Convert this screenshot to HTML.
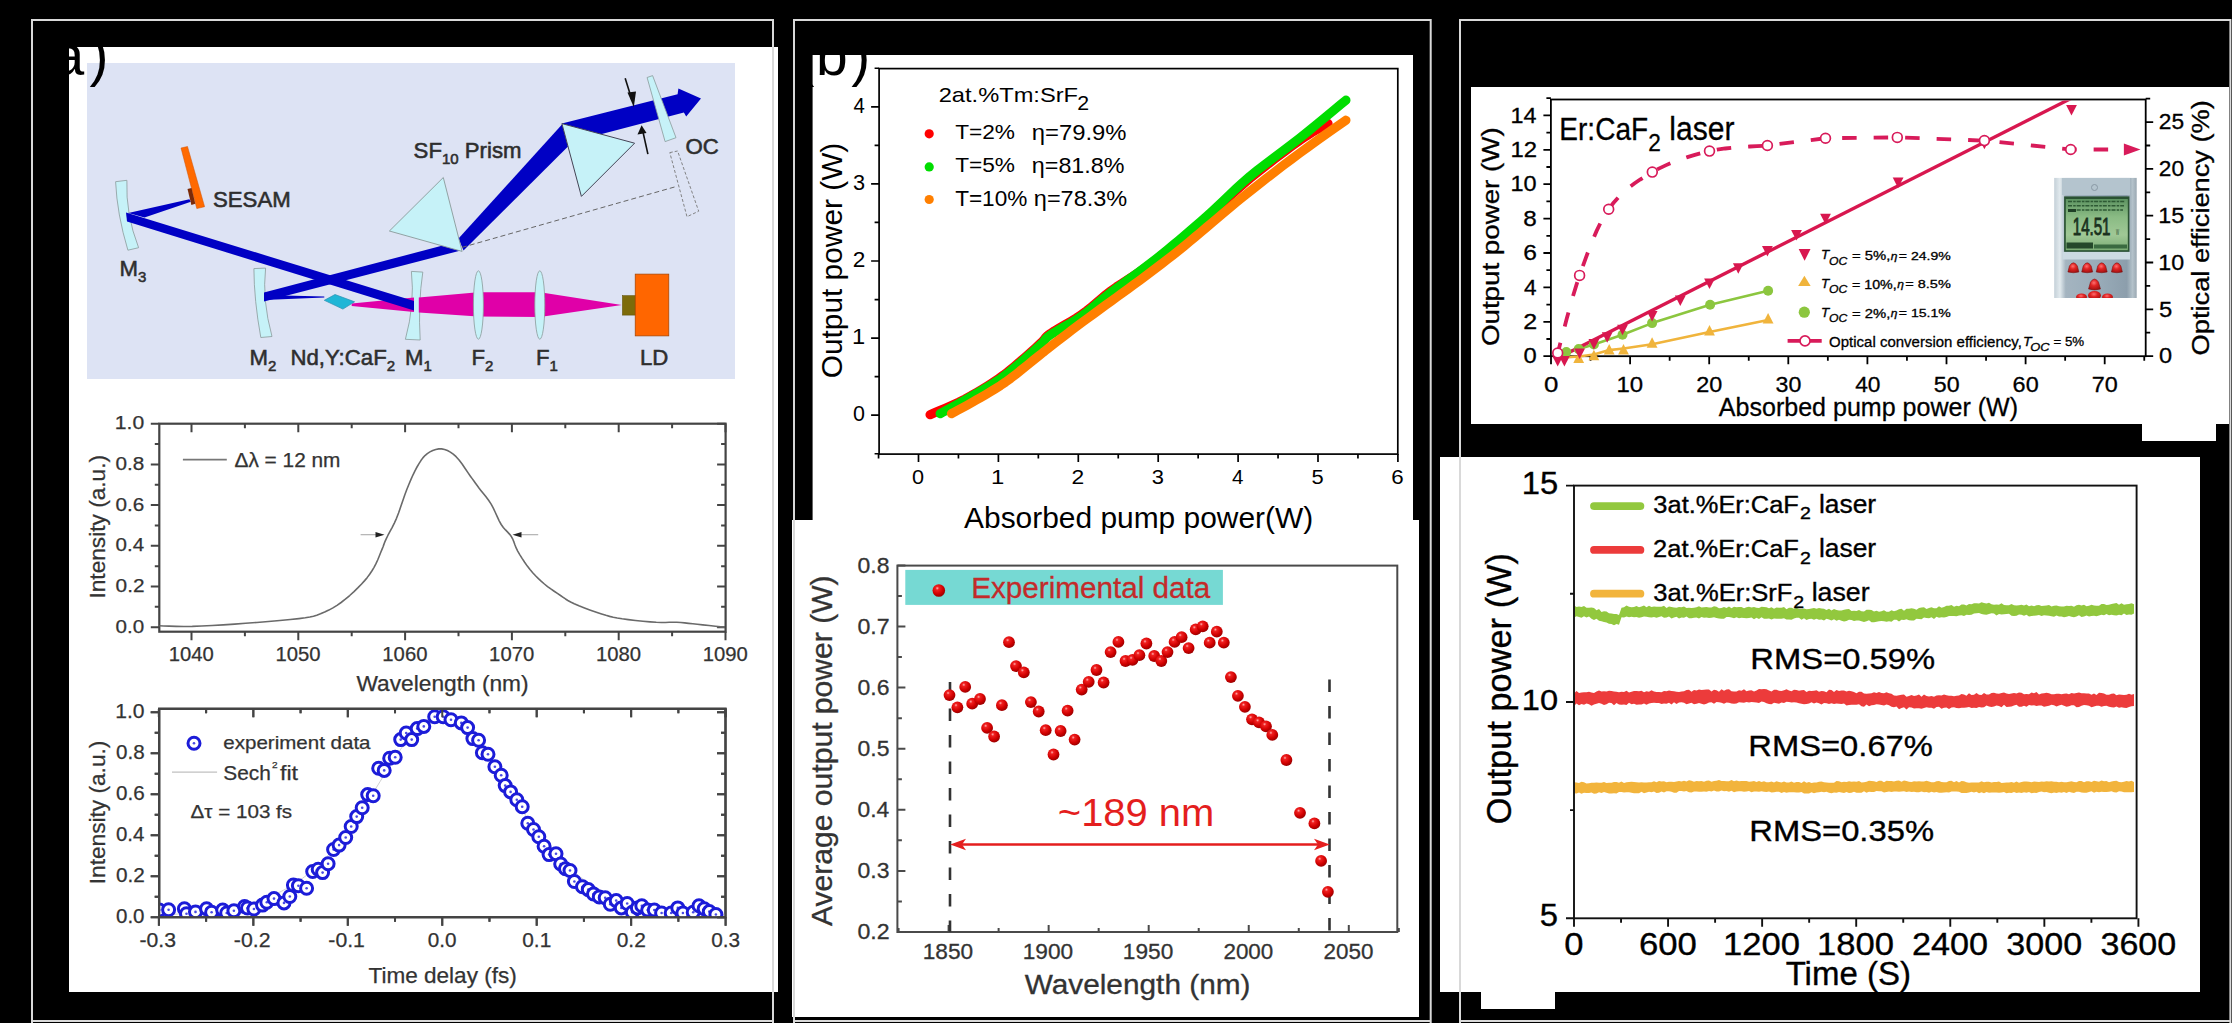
<!DOCTYPE html>
<html><head><meta charset="utf-8"><style>
html,body{margin:0;padding:0;background:#000;width:2232px;height:1023px;overflow:hidden}
svg{display:block;font-family:"Liberation Sans", sans-serif}
</style></head><body>
<svg width="2232" height="1023" viewBox="0 0 2232 1023">
<rect x="69" y="47" width="709" height="945" fill="#fff" />
<rect x="812.6" y="55" width="600.4" height="465" fill="#fff" />
<rect x="792" y="520" width="627" height="497" fill="#fff" />
<rect x="1471" y="87" width="758" height="337" fill="#fff" />
<rect x="2142" y="424" width="74" height="17" fill="#fff" />
<rect x="1440" y="457" width="760" height="535" fill="#fff" />
<rect x="1481" y="992" width="74" height="17" fill="#fff" />
<rect x="87" y="63" width="648" height="316" fill="#dde3f4" />
<path d="M115.6,181.7 L126.9,180.3 Q125.5,214 138.6,247.7 L127.9,250.2 Q117,214 115.6,181.7 Z" fill="#c6f2f8" stroke="#8a9a9a" stroke-width="0.8"/>
<path d="M253.9,268.6 L265.6,268.1 Q262,300 272,336.5 L260.8,337.5 Q254,300 253.9,268.6 Z" fill="#c6f2f8" stroke="#8a9a9a" stroke-width="0.8"/>
<path d="M411.4,271.4 L422.8,272.1 Q418,304 420.2,340 L405.4,339.3 Q415,304 411.4,271.4 Z" fill="#c6f2f8" stroke="#8a9a9a" stroke-width="0.8"/>
<polygon points="351.7,303.5 414,297.5 414,312 351.7,306" fill="#e000a8" />
<polygon points="418.8,297.6 478,292.3 540,292.3 621.8,305 540,317 478,316.5 418.8,312.4" fill="#e000a8" />
<ellipse cx="478.4" cy="305" rx="5" ry="34.2" fill="#c6f2f8" stroke="#8a9a9a" stroke-width="0.8"/>
<ellipse cx="539.8" cy="305" rx="5" ry="34.2" fill="#c6f2f8" stroke="#8a9a9a" stroke-width="0.8"/>
<polygon points="128.3,213 189.4,199.3 190.9,201.8 144.5,217.5" fill="#0000c4" />
<polygon points="126,212.5 414,301 414,310.5 127,221.5" fill="#0000c4" />
<polygon points="264,292.5 455,242.3 461.8,250.2 264,301.5" fill="#0000c4" />
<polygon points="264,295 324.3,296.4 324.3,297.6 264,300" fill="#0000c4" />
<polygon points="458.5,238.5 562.2,124.2 568,146.6 463.5,250.5" fill="#0000c4" />
<polygon points="561.9,123.6 677.6,94.2 678.4,88.5 701,98.6 686.2,116.6 683.9,112.5 575,141" fill="#0000c4" />
<polygon points="324.3,300.3 335,294.5 354.6,301.8 342.9,309.1" fill="#1fb6d6" stroke="#2a8fb0" stroke-width="0.7"/>
<polygon points="389.4,231 443.3,177.5 462.1,251.4" fill="#c6f2f8" stroke="#8a9a9a" stroke-width="0.9"/>
<polygon points="561.9,123.6 634.6,143.2 581.4,196.4" fill="#c6f2f8" stroke="#445" stroke-width="1"/>
<polygon points="647.1,77.5 652.6,75.6 676,137.7 665.1,141.6" fill="#c6f2f8" stroke="#8a9a9a" stroke-width="0.8"/>
<polygon points="669.8,152.6 677.6,151 698.7,211.2 687,216.7" fill="none" stroke="#777" stroke-width="0.9" stroke-dasharray="3,2"/>
<line x1="462" y1="247.4" x2="674.5" y2="187" stroke="#666" stroke-width="1" stroke-dasharray="5,3"/>
<line x1="625.2" y1="78.3" x2="632" y2="100" stroke="#111" stroke-width="1.6"/>
<polygon points="627.5,92.5 636,91.5 633.8,107.2" fill="#111" />
<line x1="647.9" y1="154.1" x2="643" y2="132" stroke="#111" stroke-width="1.6"/>
<polygon points="637.5,134.5 646.5,133 641.6,125.2" fill="#111" />
<polygon points="181,148 187.5,146.5 204.6,206.7 196.8,208.6" fill="#ff6a00" stroke="#d05000" stroke-width="0.5"/>
<polygon points="187.5,189 191.5,188 195.3,203.7 191.4,204.9" fill="#7a2a08" />
<rect x="622.4" y="295.6" width="13.5" height="19.5" fill="#7d6b0a" stroke="#5a4a00" stroke-width="0.5"/>
<rect x="635.2" y="274.1" width="33.6" height="61.8" fill="#ff6600" stroke="#a04000" stroke-width="0.7"/>
<text x="413.6" y="157.5" font-size="22.2" fill="#2e2e2e" stroke="#2e2e2e" stroke-width="0.55">SF<tspan font-size="15" dy="6">10</tspan><tspan dy="-6"> Prism</tspan></text>
<text x="685.5" y="154" font-size="22.2" fill="#2e2e2e" stroke="#2e2e2e" stroke-width="0.55">OC</text>
<text x="213" y="206.5" font-size="22.2" fill="#2e2e2e" stroke="#2e2e2e" stroke-width="0.55">SESAM</text>
<text x="119.5" y="275.5" font-size="22.2" fill="#2e2e2e" stroke="#2e2e2e" stroke-width="0.55">M<tspan font-size="15" dy="6">3</tspan></text>
<text x="249.5" y="365" font-size="22.2" fill="#2e2e2e" stroke="#2e2e2e" stroke-width="0.55">M<tspan font-size="15" dy="6">2</tspan></text>
<text x="290.5" y="365" font-size="22.2" fill="#2e2e2e" stroke="#2e2e2e" stroke-width="0.55">Nd,Y:CaF<tspan font-size="15" dy="6">2</tspan></text>
<text x="405" y="365" font-size="22.2" fill="#2e2e2e" stroke="#2e2e2e" stroke-width="0.55">M<tspan font-size="15" dy="6">1</tspan></text>
<text x="471.5" y="365" font-size="22.2" fill="#2e2e2e" stroke="#2e2e2e" stroke-width="0.55">F<tspan font-size="15" dy="6">2</tspan></text>
<text x="536" y="365" font-size="22.2" fill="#2e2e2e" stroke="#2e2e2e" stroke-width="0.55">F<tspan font-size="15" dy="6">1</tspan></text>
<text x="640" y="365" font-size="22.2" fill="#2e2e2e" stroke="#2e2e2e" stroke-width="0.55">LD</text>
<text x="52.4" y="75" font-size="57" fill="#000">a</text><text x="89.5" y="75" font-size="57" fill="#000">)</text>
<rect x="159.3" y="423.7" width="566.3" height="208" fill="none" stroke="#444" stroke-width="2.2"/>
<path d="M191.5,631.7v8.5M191.5,423.7v8.5M298.3,631.7v8.5M298.3,423.7v8.5M405.1,631.7v8.5M405.1,423.7v8.5M511.9,631.7v8.5M511.9,423.7v8.5M618.7,631.7v8.5M618.7,423.7v8.5M725.5,631.7v8.5M725.5,423.7v8.5M244.9,631.7v4.5M244.9,423.7v4.5M351.7,631.7v4.5M351.7,423.7v4.5M458.5,631.7v4.5M458.5,423.7v4.5M565.3,631.7v4.5M565.3,423.7v4.5M672.1,631.7v4.5M672.1,423.7v4.5M159.3,627.2h-8.5M725.6,627.2h-8.5M159.3,586.5h-8.5M725.6,586.5h-8.5M159.3,545.8h-8.5M725.6,545.8h-8.5M159.3,505.1h-8.5M725.6,505.1h-8.5M159.3,464.4h-8.5M725.6,464.4h-8.5M159.3,423.7h-8.5M725.6,423.7h-8.5M159.3,606.85h-4.5M725.6,606.85h-4.5M159.3,566.15h-4.5M725.6,566.15h-4.5M159.3,525.45h-4.5M725.6,525.45h-4.5M159.3,484.75h-4.5M725.6,484.75h-4.5M159.3,444.05h-4.5M725.6,444.05h-4.5" stroke="#444" stroke-width="2" fill="none"/>
<text x="115.58" y="632.87" font-size="18.45" fill="#333" textLength="28.65" lengthAdjust="spacingAndGlyphs" stroke="#333" stroke-width="0.25">0.0</text>
<text x="115.57" y="592.17" font-size="18.45" fill="#333" textLength="28.98" lengthAdjust="spacingAndGlyphs" stroke="#333" stroke-width="0.25">0.2</text>
<text x="115.58" y="551.47" font-size="18.45" fill="#333" textLength="28.54" lengthAdjust="spacingAndGlyphs" stroke="#333" stroke-width="0.25">0.4</text>
<text x="115.57" y="510.77" font-size="18.45" fill="#333" textLength="28.76" lengthAdjust="spacingAndGlyphs" stroke="#333" stroke-width="0.25">0.6</text>
<text x="115.57" y="470.07" font-size="18.45" fill="#333" textLength="28.76" lengthAdjust="spacingAndGlyphs" stroke="#333" stroke-width="0.25">0.8</text>
<text x="114.81" y="429.37" font-size="18.45" fill="#333" textLength="29.43" lengthAdjust="spacingAndGlyphs" stroke="#333" stroke-width="0.25">1.0</text>
<text x="168.73" y="661.41" font-size="19.44" fill="#333" textLength="45.12" lengthAdjust="spacingAndGlyphs" stroke="#333" stroke-width="0.25">1040</text>
<text x="275.53" y="661.41" font-size="19.44" fill="#333" textLength="45.12" lengthAdjust="spacingAndGlyphs" stroke="#333" stroke-width="0.25">1050</text>
<text x="382.33" y="661.41" font-size="19.44" fill="#333" textLength="45.12" lengthAdjust="spacingAndGlyphs" stroke="#333" stroke-width="0.25">1060</text>
<text x="489.13" y="661.41" font-size="19.44" fill="#333" textLength="45.12" lengthAdjust="spacingAndGlyphs" stroke="#333" stroke-width="0.25">1070</text>
<text x="595.93" y="661.41" font-size="19.44" fill="#333" textLength="45.12" lengthAdjust="spacingAndGlyphs" stroke="#333" stroke-width="0.25">1080</text>
<text x="702.73" y="661.41" font-size="19.44" fill="#333" textLength="45.12" lengthAdjust="spacingAndGlyphs" stroke="#333" stroke-width="0.25">1090</text>
<text x="356.49" y="691.05" font-size="21.18" fill="#333" textLength="172.12" lengthAdjust="spacingAndGlyphs" stroke="#333" stroke-width="0.25">Wavelength (nm)</text>
<text x="104.95" y="598.54" font-size="21.18" fill="#333" textLength="143.62" lengthAdjust="spacingAndGlyphs" transform="rotate(-90 104.95 598.54)" stroke="#333" stroke-width="0.25">Intensity (a.u.)</text>
<polyline points="159.4,625.8 163.55,625.94 169.21,626.17 176.09,626.4 183.89,626.51 192.3,626.4 201.65,626.04 212.15,625.5 223.3,624.83 234.61,624.08 245.6,623.3 256.77,622.46 268.44,621.54 279.86,620.56 290.27,619.57 298.9,618.6 305.26,617.75 309.87,617 313.45,616.19 316.75,615.18 320.5,613.8 324.69,612.07 328.82,610.09 332.92,607.85 337,605.32 341.1,602.5 345.34,599.23 349.7,595.52 354,591.59 358.03,587.68 361.6,584 364.65,580.62 367.31,577.39 369.67,574.21 371.83,570.98 373.9,567.6 375.87,563.9 377.67,559.96 379.31,556.01 380.79,552.31 382.1,549.1 383.08,546.68 383.74,544.88 384.31,543.26 385.05,541.38 386.2,538.8 387.86,535.49 389.87,531.73 392.08,527.59 394.34,523.09 396.5,518.3 398.56,512.97 400.62,507.08 402.69,500.96 404.75,494.99 406.8,489.5 408.84,484.45 410.88,479.61 412.92,475.04 414.96,470.82 417,467 418.99,463.6 420.92,460.57 422.88,457.9 424.98,455.58 427.3,453.6 429.92,451.9 432.76,450.49 435.74,449.46 438.75,448.9 441.7,448.9 444.58,449.47 447.46,450.56 450.35,452.14 453.23,454.19 456.1,456.7 459.06,459.98 462.12,464.05 465.12,468.43 467.93,472.64 470.4,476.2 472.36,478.9 473.92,481.07 475.31,483.01 476.79,485.04 478.6,487.5 480.85,490.39 483.36,493.49 486,496.79 488.59,500.27 491,503.9 493.18,507.88 495.23,512.24 497.22,516.66 499.19,520.84 501.2,524.5 503.32,527.46 505.51,529.92 507.67,532.13 509.7,534.34 511.5,536.8 512.9,539.46 513.98,542.17 514.98,544.98 516.14,547.94 517.7,551.1 519.74,554.6 522.08,558.39 524.64,562.29 527.31,566.1 530,569.6 532.72,572.79 535.53,575.79 538.42,578.65 541.38,581.37 544.4,584 547.55,586.54 550.83,588.96 554.15,591.27 557.41,593.45 560.5,595.5 563.17,597.33 565.5,598.96 567.85,600.5 570.62,602.07 574.2,603.8 578.91,605.8 584.5,608 590.48,610.22 596.34,612.28 601.6,614 605.92,615.33 609.64,616.37 613.24,617.23 617.23,618.01 622.1,618.8 628.28,619.64 635.45,620.46 642.95,621.21 650.12,621.84 656.3,622.3 661.28,622.49 665.49,622.46 669.26,622.32 672.92,622.23 676.8,622.3 680.79,622.56 684.67,622.91 688.6,623.33 692.76,623.8 697.3,624.3 702.78,624.88 709.08,625.57 715.38,626.27 720.86,626.88 724.7,627.3" fill="none" stroke="#6a6a6a" stroke-width="1.6" stroke-linejoin="round" />
<line x1="360.6" y1="534.7" x2="378" y2="534.7" stroke="#aaa" stroke-width="1.1" />
<polygon points="375.5,531.9 384.5,534.7 375.5,537.5" fill="#222"/>
<line x1="519" y1="534.7" x2="538.2" y2="534.7" stroke="#aaa" stroke-width="1.1" />
<polygon points="521.5,531.9 512.5,534.7 521.5,537.5" fill="#222"/>
<line x1="182.9" y1="459.6" x2="226.8" y2="459.6" stroke="#777" stroke-width="1.6" />
<text x="234.47" y="467.1" font-size="19.31" fill="#333" textLength="106.02" lengthAdjust="spacingAndGlyphs" stroke="#333" stroke-width="0.25">Δλ = 12 nm</text>
<rect x="159.2" y="708.8" width="566.3" height="208.4" fill="none" stroke="#444" stroke-width="2.2"/>
<path d="M158.9,917.2v8.5M158.9,708.8v8.5M253.35,917.2v8.5M253.35,708.8v8.5M347.8,917.2v8.5M347.8,708.8v8.5M442.25,917.2v8.5M442.25,708.8v8.5M536.7,917.2v8.5M536.7,708.8v8.5M631.15,917.2v8.5M631.15,708.8v8.5M725.6,917.2v8.5M725.6,708.8v8.5M206.12,917.2v4.5M206.12,708.8v4.5M300.57,917.2v4.5M300.57,708.8v4.5M395.02,917.2v4.5M395.02,708.8v4.5M489.48,917.2v4.5M489.48,708.8v4.5M583.93,917.2v4.5M583.93,708.8v4.5M678.38,917.2v4.5M678.38,708.8v4.5M159.2,917.2h-8.5M725.5,917.2h-8.5M159.2,876.2h-8.5M725.5,876.2h-8.5M159.2,835.2h-8.5M725.5,835.2h-8.5M159.2,794.2h-8.5M725.5,794.2h-8.5M159.2,753.2h-8.5M725.5,753.2h-8.5M159.2,712.2h-8.5M725.5,712.2h-8.5M159.2,896.7h-4.5M725.5,896.7h-4.5M159.2,855.7h-4.5M725.5,855.7h-4.5M159.2,814.7h-4.5M725.5,814.7h-4.5M159.2,773.7h-4.5M725.5,773.7h-4.5M159.2,732.7h-4.5M725.5,732.7h-4.5" stroke="#444" stroke-width="2" fill="none"/>
<text x="115.98" y="922.6" font-size="20" fill="#333" textLength="28.54" lengthAdjust="spacingAndGlyphs" stroke="#333" stroke-width="0.25">0.0</text>
<text x="115.97" y="881.6" font-size="20" fill="#333" textLength="28.87" lengthAdjust="spacingAndGlyphs" stroke="#333" stroke-width="0.25">0.2</text>
<text x="115.98" y="840.6" font-size="20" fill="#333" textLength="28.44" lengthAdjust="spacingAndGlyphs" stroke="#333" stroke-width="0.25">0.4</text>
<text x="115.98" y="799.6" font-size="20" fill="#333" textLength="28.65" lengthAdjust="spacingAndGlyphs" stroke="#333" stroke-width="0.25">0.6</text>
<text x="115.98" y="758.6" font-size="20" fill="#333" textLength="28.65" lengthAdjust="spacingAndGlyphs" stroke="#333" stroke-width="0.25">0.8</text>
<text x="115.22" y="717.6" font-size="20" fill="#333" textLength="29.32" lengthAdjust="spacingAndGlyphs" stroke="#333" stroke-width="0.25">1.0</text>
<text x="139.45" y="947.3" font-size="19.58" fill="#333" textLength="36.47" lengthAdjust="spacingAndGlyphs" stroke="#333" stroke-width="0.25">-0.3</text>
<text x="233.89" y="947.3" font-size="19.58" fill="#333" textLength="36.69" lengthAdjust="spacingAndGlyphs" stroke="#333" stroke-width="0.25">-0.2</text>
<text x="328.34" y="947.3" font-size="19.58" fill="#333" textLength="36.58" lengthAdjust="spacingAndGlyphs" stroke="#333" stroke-width="0.25">-0.1</text>
<text x="427.82" y="947.3" font-size="19.58" fill="#333" textLength="28.75" lengthAdjust="spacingAndGlyphs" stroke="#333" stroke-width="0.25">0.0</text>
<text x="522.27" y="947.3" font-size="19.58" fill="#333" textLength="28.97" lengthAdjust="spacingAndGlyphs" stroke="#333" stroke-width="0.25">0.1</text>
<text x="616.71" y="947.3" font-size="19.58" fill="#333" textLength="29.09" lengthAdjust="spacingAndGlyphs" stroke="#333" stroke-width="0.25">0.2</text>
<text x="711.17" y="947.3" font-size="19.58" fill="#333" textLength="28.86" lengthAdjust="spacingAndGlyphs" stroke="#333" stroke-width="0.25">0.3</text>
<text x="368.45" y="983.04" font-size="21.71" fill="#333" textLength="148.33" lengthAdjust="spacingAndGlyphs" stroke="#333" stroke-width="0.25">Time delay (fs)</text>
<text x="104.95" y="884.24" font-size="21.18" fill="#333" textLength="143.62" lengthAdjust="spacingAndGlyphs" transform="rotate(-90 104.95 884.24)" stroke="#333" stroke-width="0.25">Intensity (a.u.)</text>
<polyline points="158.9,915.09 160.79,915 162.68,914.91 164.57,914.82 166.46,914.73 168.35,914.63 170.23,914.52 172.12,914.42 174.01,914.3 175.9,914.19 177.79,914.07 179.68,913.94 181.57,913.81 183.46,913.68 185.35,913.53 187.23,913.39 189.12,913.24 191.01,913.08 192.9,912.91 194.79,912.74 196.68,912.56 198.57,912.38 200.46,912.19 202.35,911.99 204.24,911.78 206.12,911.56 208.01,911.34 209.9,911.1 211.79,910.86 213.68,910.61 215.57,910.35 217.46,910.08 219.35,909.79 221.24,909.5 223.13,909.2 225.02,908.88 226.9,908.55 228.79,908.21 230.68,907.85 232.57,907.49 234.46,907.1 236.35,906.71 238.24,906.29 240.13,905.87 242.02,905.42 243.91,904.96 245.79,904.48 247.68,903.98 249.57,903.47 251.46,902.93 253.35,902.38 255.24,901.8 257.13,901.21 259.02,900.59 260.91,899.95 262.79,899.28 264.68,898.59 266.57,897.88 268.46,897.13 270.35,896.37 272.24,895.57 274.13,894.75 276.02,893.9 277.91,893.01 279.8,892.1 281.69,891.15 283.57,890.17 285.46,889.16 287.35,888.11 289.24,887.03 291.13,885.91 293.02,884.75 294.91,883.55 296.8,882.31 298.69,881.04 300.57,879.72 302.46,878.36 304.35,876.95 306.24,875.5 308.13,874.01 310.02,872.47 311.91,870.88 313.8,869.25 315.69,867.57 317.58,865.84 319.47,864.05 321.35,862.22 323.24,860.34 325.13,858.4 327.02,856.42 328.91,854.38 330.8,852.29 332.69,850.14 334.58,847.95 336.47,845.7 338.36,843.4 340.24,841.04 342.13,838.64 344.02,836.18 345.91,833.67 347.8,831.11 349.69,828.51 351.58,825.85 353.47,823.15 355.36,820.41 357.25,817.62 359.13,814.79 361.02,811.93 362.91,809.02 364.8,806.09 366.69,803.12 368.58,800.13 370.47,797.11 372.36,794.08 374.25,791.02 376.13,787.96 378.02,784.88 379.91,781.8 381.8,778.73 383.69,775.66 385.58,772.6 387.47,769.56 389.36,766.54 391.25,763.55 393.14,760.59 395.02,757.67 396.91,754.8 398.8,751.98 400.69,749.22 402.58,746.53 404.47,743.91 406.36,741.36 408.25,738.9 410.14,736.53 412.03,734.26 413.92,732.09 415.8,730.03 417.69,728.09 419.58,726.26 421.47,724.56 423.36,722.99 425.25,721.56 427.14,720.26 429.03,719.11 430.92,718.1 432.8,717.24 434.69,716.54 436.58,715.99 438.47,715.59 440.36,715.35 442.25,715.28 444.14,715.35 446.03,715.59 447.92,715.99 449.81,716.54 451.7,717.24 453.58,718.1 455.47,719.11 457.36,720.26 459.25,721.56 461.14,722.99 463.03,724.56 464.92,726.26 466.81,728.09 468.7,730.03 470.59,732.09 472.47,734.26 474.36,736.53 476.25,738.9 478.14,741.36 480.03,743.91 481.92,746.53 483.81,749.22 485.7,751.98 487.59,754.8 489.48,757.67 491.36,760.59 493.25,763.55 495.14,766.54 497.03,769.56 498.92,772.6 500.81,775.66 502.7,778.73 504.59,781.8 506.48,784.88 508.37,787.96 510.25,791.02 512.14,794.08 514.03,797.11 515.92,800.13 517.81,803.12 519.7,806.09 521.59,809.02 523.48,811.93 525.37,814.79 527.25,817.62 529.14,820.41 531.03,823.15 532.92,825.85 534.81,828.51 536.7,831.11 538.59,833.67 540.48,836.18 542.37,838.64 544.26,841.04 546.14,843.4 548.03,845.7 549.92,847.95 551.81,850.14 553.7,852.29 555.59,854.38 557.48,856.42 559.37,858.4 561.26,860.34 563.15,862.22 565.03,864.05 566.92,865.84 568.81,867.57 570.7,869.25 572.59,870.88 574.48,872.47 576.37,874.01 578.26,875.5 580.15,876.95 582.04,878.36 583.93,879.72 585.81,881.04 587.7,882.31 589.59,883.55 591.48,884.75 593.37,885.91 595.26,887.03 597.15,888.11 599.04,889.16 600.93,890.17 602.82,891.15 604.7,892.1 606.59,893.01 608.48,893.9 610.37,894.75 612.26,895.57 614.15,896.37 616.04,897.13 617.93,897.88 619.82,898.59 621.71,899.28 623.59,899.95 625.48,900.59 627.37,901.21 629.26,901.8 631.15,902.38 633.04,902.93 634.93,903.47 636.82,903.98 638.71,904.48 640.6,904.96 642.48,905.42 644.37,905.87 646.26,906.29 648.15,906.71 650.04,907.1 651.93,907.49 653.82,907.85 655.71,908.21 657.6,908.55 659.49,908.88 661.37,909.2 663.26,909.5 665.15,909.79 667.04,910.08 668.93,910.35 670.82,910.61 672.71,910.86 674.6,911.1 676.49,911.34 678.38,911.56 680.26,911.78 682.15,911.99 684.04,912.19 685.93,912.38 687.82,912.56 689.71,912.74 691.6,912.91 693.49,913.08 695.38,913.24 697.26,913.39 699.15,913.53 701.04,913.68 702.93,913.81 704.82,913.94 706.71,914.07 708.6,914.19 710.49,914.3 712.38,914.42 714.27,914.52 716.15,914.63 718.04,914.73 719.93,914.82 721.82,914.91 723.71,915 725.6,915.09" fill="none" stroke="#d0d0d0" stroke-width="1" stroke-linejoin="round" />
<defs><clipPath id="cpac"><rect x="159.2" y="708.8" width="566.3" height="208.4"/></clipPath></defs>
<g clip-path="url(#cpac)"><circle cx="159.3" cy="910.1" r="6.0" fill="#fff" stroke="#1c1cd8" stroke-width="3.0"/><circle cx="159.3" cy="910.1" r="1.3" fill="#4a4ae4"/><circle cx="168.6" cy="909.7" r="6.0" fill="#fff" stroke="#1c1cd8" stroke-width="3.0"/><circle cx="168.6" cy="909.7" r="1.3" fill="#4a4ae4"/><circle cx="184.4" cy="908.7" r="6.0" fill="#fff" stroke="#1c1cd8" stroke-width="3.0"/><circle cx="184.4" cy="908.7" r="1.3" fill="#4a4ae4"/><circle cx="186.5" cy="913.7" r="6.0" fill="#fff" stroke="#1c1cd8" stroke-width="3.0"/><circle cx="186.5" cy="913.7" r="1.3" fill="#4a4ae4"/><circle cx="195.5" cy="911.9" r="6.0" fill="#fff" stroke="#1c1cd8" stroke-width="3.0"/><circle cx="195.5" cy="911.9" r="1.3" fill="#4a4ae4"/><circle cx="206.6" cy="908.7" r="6.0" fill="#fff" stroke="#1c1cd8" stroke-width="3.0"/><circle cx="206.6" cy="908.7" r="1.3" fill="#4a4ae4"/><circle cx="211.6" cy="912.3" r="6.0" fill="#fff" stroke="#1c1cd8" stroke-width="3.0"/><circle cx="211.6" cy="912.3" r="1.3" fill="#4a4ae4"/><circle cx="222.7" cy="910.1" r="6.0" fill="#fff" stroke="#1c1cd8" stroke-width="3.0"/><circle cx="222.7" cy="910.1" r="1.3" fill="#4a4ae4"/><circle cx="226.7" cy="913" r="6.0" fill="#fff" stroke="#1c1cd8" stroke-width="3.0"/><circle cx="226.7" cy="913" r="1.3" fill="#4a4ae4"/><circle cx="233.9" cy="910.8" r="6.0" fill="#fff" stroke="#1c1cd8" stroke-width="3.0"/><circle cx="233.9" cy="910.8" r="1.3" fill="#4a4ae4"/><circle cx="244.6" cy="906.5" r="6.0" fill="#fff" stroke="#1c1cd8" stroke-width="3.0"/><circle cx="244.6" cy="906.5" r="1.3" fill="#4a4ae4"/><circle cx="247.5" cy="908" r="6.0" fill="#fff" stroke="#1c1cd8" stroke-width="3.0"/><circle cx="247.5" cy="908" r="1.3" fill="#4a4ae4"/><circle cx="253.9" cy="909" r="6.0" fill="#fff" stroke="#1c1cd8" stroke-width="3.0"/><circle cx="253.9" cy="909" r="1.3" fill="#4a4ae4"/><circle cx="262.5" cy="905.1" r="6.0" fill="#fff" stroke="#1c1cd8" stroke-width="3.0"/><circle cx="262.5" cy="905.1" r="1.3" fill="#4a4ae4"/><circle cx="266.8" cy="902.2" r="6.0" fill="#fff" stroke="#1c1cd8" stroke-width="3.0"/><circle cx="266.8" cy="902.2" r="1.3" fill="#4a4ae4"/><circle cx="274" cy="898.6" r="6.0" fill="#fff" stroke="#1c1cd8" stroke-width="3.0"/><circle cx="274" cy="898.6" r="1.3" fill="#4a4ae4"/><circle cx="284" cy="902.9" r="6.0" fill="#fff" stroke="#1c1cd8" stroke-width="3.0"/><circle cx="284" cy="902.9" r="1.3" fill="#4a4ae4"/><circle cx="289.8" cy="896.5" r="6.0" fill="#fff" stroke="#1c1cd8" stroke-width="3.0"/><circle cx="289.8" cy="896.5" r="1.3" fill="#4a4ae4"/><circle cx="293.4" cy="885" r="6.0" fill="#fff" stroke="#1c1cd8" stroke-width="3.0"/><circle cx="293.4" cy="885" r="1.3" fill="#4a4ae4"/><circle cx="298.4" cy="885.7" r="6.0" fill="#fff" stroke="#1c1cd8" stroke-width="3.0"/><circle cx="298.4" cy="885.7" r="1.3" fill="#4a4ae4"/><circle cx="306.6" cy="888.2" r="6.0" fill="#fff" stroke="#1c1cd8" stroke-width="3.0"/><circle cx="306.6" cy="888.2" r="1.3" fill="#4a4ae4"/><circle cx="312.7" cy="871.5" r="6.0" fill="#fff" stroke="#1c1cd8" stroke-width="3.0"/><circle cx="312.7" cy="871.5" r="1.3" fill="#4a4ae4"/><circle cx="318.2" cy="869.3" r="6.0" fill="#fff" stroke="#1c1cd8" stroke-width="3.0"/><circle cx="318.2" cy="869.3" r="1.3" fill="#4a4ae4"/><circle cx="322.6" cy="872.6" r="6.0" fill="#fff" stroke="#1c1cd8" stroke-width="3.0"/><circle cx="322.6" cy="872.6" r="1.3" fill="#4a4ae4"/><circle cx="328.1" cy="863.8" r="6.0" fill="#fff" stroke="#1c1cd8" stroke-width="3.0"/><circle cx="328.1" cy="863.8" r="1.3" fill="#4a4ae4"/><circle cx="333.6" cy="849.5" r="6.0" fill="#fff" stroke="#1c1cd8" stroke-width="3.0"/><circle cx="333.6" cy="849.5" r="1.3" fill="#4a4ae4"/><circle cx="339.1" cy="845.1" r="6.0" fill="#fff" stroke="#1c1cd8" stroke-width="3.0"/><circle cx="339.1" cy="845.1" r="1.3" fill="#4a4ae4"/><circle cx="345.7" cy="837.5" r="6.0" fill="#fff" stroke="#1c1cd8" stroke-width="3.0"/><circle cx="345.7" cy="837.5" r="1.3" fill="#4a4ae4"/><circle cx="351.2" cy="826.5" r="6.0" fill="#fff" stroke="#1c1cd8" stroke-width="3.0"/><circle cx="351.2" cy="826.5" r="1.3" fill="#4a4ae4"/><circle cx="356.7" cy="816.6" r="6.0" fill="#fff" stroke="#1c1cd8" stroke-width="3.0"/><circle cx="356.7" cy="816.6" r="1.3" fill="#4a4ae4"/><circle cx="362.2" cy="807.8" r="6.0" fill="#fff" stroke="#1c1cd8" stroke-width="3.0"/><circle cx="362.2" cy="807.8" r="1.3" fill="#4a4ae4"/><circle cx="367.7" cy="794.6" r="6.0" fill="#fff" stroke="#1c1cd8" stroke-width="3.0"/><circle cx="367.7" cy="794.6" r="1.3" fill="#4a4ae4"/><circle cx="373.2" cy="795.7" r="6.0" fill="#fff" stroke="#1c1cd8" stroke-width="3.0"/><circle cx="373.2" cy="795.7" r="1.3" fill="#4a4ae4"/><circle cx="378.7" cy="768.2" r="6.0" fill="#fff" stroke="#1c1cd8" stroke-width="3.0"/><circle cx="378.7" cy="768.2" r="1.3" fill="#4a4ae4"/><circle cx="384.2" cy="770.4" r="6.0" fill="#fff" stroke="#1c1cd8" stroke-width="3.0"/><circle cx="384.2" cy="770.4" r="1.3" fill="#4a4ae4"/><circle cx="389.7" cy="758.3" r="6.0" fill="#fff" stroke="#1c1cd8" stroke-width="3.0"/><circle cx="389.7" cy="758.3" r="1.3" fill="#4a4ae4"/><circle cx="395.2" cy="757.2" r="6.0" fill="#fff" stroke="#1c1cd8" stroke-width="3.0"/><circle cx="395.2" cy="757.2" r="1.3" fill="#4a4ae4"/><circle cx="400.7" cy="739.6" r="6.0" fill="#fff" stroke="#1c1cd8" stroke-width="3.0"/><circle cx="400.7" cy="739.6" r="1.3" fill="#4a4ae4"/><circle cx="406.2" cy="733" r="6.0" fill="#fff" stroke="#1c1cd8" stroke-width="3.0"/><circle cx="406.2" cy="733" r="1.3" fill="#4a4ae4"/><circle cx="411.7" cy="739.6" r="6.0" fill="#fff" stroke="#1c1cd8" stroke-width="3.0"/><circle cx="411.7" cy="739.6" r="1.3" fill="#4a4ae4"/><circle cx="417.2" cy="728.6" r="6.0" fill="#fff" stroke="#1c1cd8" stroke-width="3.0"/><circle cx="417.2" cy="728.6" r="1.3" fill="#4a4ae4"/><circle cx="423.8" cy="726.4" r="6.0" fill="#fff" stroke="#1c1cd8" stroke-width="3.0"/><circle cx="423.8" cy="726.4" r="1.3" fill="#4a4ae4"/><circle cx="434.7" cy="716.7" r="6.0" fill="#fff" stroke="#1c1cd8" stroke-width="3.0"/><circle cx="434.7" cy="716.7" r="1.3" fill="#4a4ae4"/><circle cx="443.2" cy="716.7" r="6.0" fill="#fff" stroke="#1c1cd8" stroke-width="3.0"/><circle cx="443.2" cy="716.7" r="1.3" fill="#4a4ae4"/><circle cx="451" cy="719.8" r="6.0" fill="#fff" stroke="#1c1cd8" stroke-width="3.0"/><circle cx="451" cy="719.8" r="1.3" fill="#4a4ae4"/><circle cx="461.3" cy="722.9" r="6.0" fill="#fff" stroke="#1c1cd8" stroke-width="3.0"/><circle cx="461.3" cy="722.9" r="1.3" fill="#4a4ae4"/><circle cx="467.6" cy="727.6" r="6.0" fill="#fff" stroke="#1c1cd8" stroke-width="3.0"/><circle cx="467.6" cy="727.6" r="1.3" fill="#4a4ae4"/><circle cx="472.9" cy="738.6" r="6.0" fill="#fff" stroke="#1c1cd8" stroke-width="3.0"/><circle cx="472.9" cy="738.6" r="1.3" fill="#4a4ae4"/><circle cx="478.6" cy="740.2" r="6.0" fill="#fff" stroke="#1c1cd8" stroke-width="3.0"/><circle cx="478.6" cy="740.2" r="1.3" fill="#4a4ae4"/><circle cx="482.4" cy="752.7" r="6.0" fill="#fff" stroke="#1c1cd8" stroke-width="3.0"/><circle cx="482.4" cy="752.7" r="1.3" fill="#4a4ae4"/><circle cx="488" cy="754.3" r="6.0" fill="#fff" stroke="#1c1cd8" stroke-width="3.0"/><circle cx="488" cy="754.3" r="1.3" fill="#4a4ae4"/><circle cx="494.9" cy="766.8" r="6.0" fill="#fff" stroke="#1c1cd8" stroke-width="3.0"/><circle cx="494.9" cy="766.8" r="1.3" fill="#4a4ae4"/><circle cx="501.2" cy="775.3" r="6.0" fill="#fff" stroke="#1c1cd8" stroke-width="3.0"/><circle cx="501.2" cy="775.3" r="1.3" fill="#4a4ae4"/><circle cx="505.2" cy="785.6" r="6.0" fill="#fff" stroke="#1c1cd8" stroke-width="3.0"/><circle cx="505.2" cy="785.6" r="1.3" fill="#4a4ae4"/><circle cx="510.6" cy="791.9" r="6.0" fill="#fff" stroke="#1c1cd8" stroke-width="3.0"/><circle cx="510.6" cy="791.9" r="1.3" fill="#4a4ae4"/><circle cx="516.8" cy="799.8" r="6.0" fill="#fff" stroke="#1c1cd8" stroke-width="3.0"/><circle cx="516.8" cy="799.8" r="1.3" fill="#4a4ae4"/><circle cx="522.2" cy="806.7" r="6.0" fill="#fff" stroke="#1c1cd8" stroke-width="3.0"/><circle cx="522.2" cy="806.7" r="1.3" fill="#4a4ae4"/><circle cx="527.8" cy="823.3" r="6.0" fill="#fff" stroke="#1c1cd8" stroke-width="3.0"/><circle cx="527.8" cy="823.3" r="1.3" fill="#4a4ae4"/><circle cx="533.5" cy="829.5" r="6.0" fill="#fff" stroke="#1c1cd8" stroke-width="3.0"/><circle cx="533.5" cy="829.5" r="1.3" fill="#4a4ae4"/><circle cx="538.8" cy="836.8" r="6.0" fill="#fff" stroke="#1c1cd8" stroke-width="3.0"/><circle cx="538.8" cy="836.8" r="1.3" fill="#4a4ae4"/><circle cx="544.1" cy="846.2" r="6.0" fill="#fff" stroke="#1c1cd8" stroke-width="3.0"/><circle cx="544.1" cy="846.2" r="1.3" fill="#4a4ae4"/><circle cx="549.1" cy="854.6" r="6.0" fill="#fff" stroke="#1c1cd8" stroke-width="3.0"/><circle cx="549.1" cy="854.6" r="1.3" fill="#4a4ae4"/><circle cx="556" cy="853.7" r="6.0" fill="#fff" stroke="#1c1cd8" stroke-width="3.0"/><circle cx="556" cy="853.7" r="1.3" fill="#4a4ae4"/><circle cx="560.7" cy="864" r="6.0" fill="#fff" stroke="#1c1cd8" stroke-width="3.0"/><circle cx="560.7" cy="864" r="1.3" fill="#4a4ae4"/><circle cx="565.5" cy="868.7" r="6.0" fill="#fff" stroke="#1c1cd8" stroke-width="3.0"/><circle cx="565.5" cy="868.7" r="1.3" fill="#4a4ae4"/><circle cx="570" cy="870.5" r="6.0" fill="#fff" stroke="#1c1cd8" stroke-width="3.0"/><circle cx="570" cy="870.5" r="1.3" fill="#4a4ae4"/><circle cx="574.4" cy="881.5" r="6.0" fill="#fff" stroke="#1c1cd8" stroke-width="3.0"/><circle cx="574.4" cy="881.5" r="1.3" fill="#4a4ae4"/><circle cx="582.5" cy="886.7" r="6.0" fill="#fff" stroke="#1c1cd8" stroke-width="3.0"/><circle cx="582.5" cy="886.7" r="1.3" fill="#4a4ae4"/><circle cx="588.3" cy="889.6" r="6.0" fill="#fff" stroke="#1c1cd8" stroke-width="3.0"/><circle cx="588.3" cy="889.6" r="1.3" fill="#4a4ae4"/><circle cx="593.5" cy="894" r="6.0" fill="#fff" stroke="#1c1cd8" stroke-width="3.0"/><circle cx="593.5" cy="894" r="1.3" fill="#4a4ae4"/><circle cx="599.3" cy="896.9" r="6.0" fill="#fff" stroke="#1c1cd8" stroke-width="3.0"/><circle cx="599.3" cy="896.9" r="1.3" fill="#4a4ae4"/><circle cx="605.2" cy="897.7" r="6.0" fill="#fff" stroke="#1c1cd8" stroke-width="3.0"/><circle cx="605.2" cy="897.7" r="1.3" fill="#4a4ae4"/><circle cx="610.3" cy="904.3" r="6.0" fill="#fff" stroke="#1c1cd8" stroke-width="3.0"/><circle cx="610.3" cy="904.3" r="1.3" fill="#4a4ae4"/><circle cx="616.2" cy="900.6" r="6.0" fill="#fff" stroke="#1c1cd8" stroke-width="3.0"/><circle cx="616.2" cy="900.6" r="1.3" fill="#4a4ae4"/><circle cx="621.3" cy="907.9" r="6.0" fill="#fff" stroke="#1c1cd8" stroke-width="3.0"/><circle cx="621.3" cy="907.9" r="1.3" fill="#4a4ae4"/><circle cx="627.2" cy="903.5" r="6.0" fill="#fff" stroke="#1c1cd8" stroke-width="3.0"/><circle cx="627.2" cy="903.5" r="1.3" fill="#4a4ae4"/><circle cx="632.3" cy="912.3" r="6.0" fill="#fff" stroke="#1c1cd8" stroke-width="3.0"/><circle cx="632.3" cy="912.3" r="1.3" fill="#4a4ae4"/><circle cx="637.4" cy="907.9" r="6.0" fill="#fff" stroke="#1c1cd8" stroke-width="3.0"/><circle cx="637.4" cy="907.9" r="1.3" fill="#4a4ae4"/><circle cx="641.8" cy="905.7" r="6.0" fill="#fff" stroke="#1c1cd8" stroke-width="3.0"/><circle cx="641.8" cy="905.7" r="1.3" fill="#4a4ae4"/><circle cx="647.7" cy="910.1" r="6.0" fill="#fff" stroke="#1c1cd8" stroke-width="3.0"/><circle cx="647.7" cy="910.1" r="1.3" fill="#4a4ae4"/><circle cx="654.3" cy="910.1" r="6.0" fill="#fff" stroke="#1c1cd8" stroke-width="3.0"/><circle cx="654.3" cy="910.1" r="1.3" fill="#4a4ae4"/><circle cx="661.6" cy="913" r="6.0" fill="#fff" stroke="#1c1cd8" stroke-width="3.0"/><circle cx="661.6" cy="913" r="1.3" fill="#4a4ae4"/><circle cx="671.2" cy="913" r="6.0" fill="#fff" stroke="#1c1cd8" stroke-width="3.0"/><circle cx="671.2" cy="913" r="1.3" fill="#4a4ae4"/><circle cx="677.8" cy="907.9" r="6.0" fill="#fff" stroke="#1c1cd8" stroke-width="3.0"/><circle cx="677.8" cy="907.9" r="1.3" fill="#4a4ae4"/><circle cx="682.9" cy="913" r="6.0" fill="#fff" stroke="#1c1cd8" stroke-width="3.0"/><circle cx="682.9" cy="913" r="1.3" fill="#4a4ae4"/><circle cx="693.2" cy="912.3" r="6.0" fill="#fff" stroke="#1c1cd8" stroke-width="3.0"/><circle cx="693.2" cy="912.3" r="1.3" fill="#4a4ae4"/><circle cx="699" cy="905.7" r="6.0" fill="#fff" stroke="#1c1cd8" stroke-width="3.0"/><circle cx="699" cy="905.7" r="1.3" fill="#4a4ae4"/><circle cx="704.2" cy="908.7" r="6.0" fill="#fff" stroke="#1c1cd8" stroke-width="3.0"/><circle cx="704.2" cy="908.7" r="1.3" fill="#4a4ae4"/><circle cx="709.3" cy="911.6" r="6.0" fill="#fff" stroke="#1c1cd8" stroke-width="3.0"/><circle cx="709.3" cy="911.6" r="1.3" fill="#4a4ae4"/><circle cx="715.9" cy="914.5" r="6.0" fill="#fff" stroke="#1c1cd8" stroke-width="3.0"/><circle cx="715.9" cy="914.5" r="1.3" fill="#4a4ae4"/></g>
<rect x="159.2" y="708.8" width="566.3" height="208.4" fill="none" stroke="#444" stroke-width="2.2"/>
<path d="M158.9,917.2v8.5M158.9,708.8v8.5M253.35,917.2v8.5M253.35,708.8v8.5M347.8,917.2v8.5M347.8,708.8v8.5M442.25,917.2v8.5M442.25,708.8v8.5M536.7,917.2v8.5M536.7,708.8v8.5M631.15,917.2v8.5M631.15,708.8v8.5M725.6,917.2v8.5M725.6,708.8v8.5M206.12,917.2v4.5M206.12,708.8v4.5M300.57,917.2v4.5M300.57,708.8v4.5M395.02,917.2v4.5M395.02,708.8v4.5M489.48,917.2v4.5M489.48,708.8v4.5M583.93,917.2v4.5M583.93,708.8v4.5M678.38,917.2v4.5M678.38,708.8v4.5M159.2,917.2h-8.5M725.5,917.2h-8.5M159.2,876.2h-8.5M725.5,876.2h-8.5M159.2,835.2h-8.5M725.5,835.2h-8.5M159.2,794.2h-8.5M725.5,794.2h-8.5M159.2,753.2h-8.5M725.5,753.2h-8.5M159.2,712.2h-8.5M725.5,712.2h-8.5M159.2,896.7h-4.5M725.5,896.7h-4.5M159.2,855.7h-4.5M725.5,855.7h-4.5M159.2,814.7h-4.5M725.5,814.7h-4.5M159.2,773.7h-4.5M725.5,773.7h-4.5M159.2,732.7h-4.5M725.5,732.7h-4.5" stroke="#444" stroke-width="2" fill="none"/>
<circle cx="194" cy="743.3" r="6.0" fill="none" stroke="#1c1cd8" stroke-width="3.0"/><circle cx="194" cy="743.3" r="1.3" fill="#4a4ae4"/>
<text x="223.38" y="748.57" font-size="17.75" fill="#333" textLength="147.14" lengthAdjust="spacingAndGlyphs" stroke="#333" stroke-width="0.25">experiment data</text>
<line x1="172" y1="772.1" x2="217.1" y2="772.1" stroke="#c0c0c0" stroke-width="1.2" />
<text x="223.26" y="779.6" font-size="19.59" fill="#333" textLength="47.48" lengthAdjust="spacingAndGlyphs" stroke="#333" stroke-width="0.25">Sech</text>
<text x="271.99" y="767.7" font-size="9.57" fill="#333" textLength="5.62" lengthAdjust="spacingAndGlyphs" stroke="#333" stroke-width="0.25">2</text>
<text x="279.95" y="779.6" font-size="19.59" fill="#333" textLength="18.13" lengthAdjust="spacingAndGlyphs" stroke="#333" stroke-width="0.25">fit</text>
<text x="190.58" y="818.12" font-size="18.1" fill="#333" textLength="101.58" lengthAdjust="spacingAndGlyphs" stroke="#333" stroke-width="0.25">Δτ = 103 fs</text>
<rect x="879.1" y="68.6" width="518.7" height="385.5" fill="none" stroke="#000" stroke-width="1.7"/>
<path d="M918.5,454.1v8M998.4,454.1v8M1078.3,454.1v8M1158.2,454.1v8M1238.1,454.1v8M1318,454.1v8M1397.9,454.1v8M878.55,454.1v4.5M958.45,454.1v4.5M1038.35,454.1v4.5M1118.25,454.1v4.5M1198.15,454.1v4.5M1278.05,454.1v4.5M1357.95,454.1v4.5M879.1,415.2h-8M879.1,338.1h-8M879.1,261h-8M879.1,183.9h-8M879.1,106.8h-8M879.1,453.75h-4.5M879.1,376.65h-4.5M879.1,299.55h-4.5M879.1,222.45h-4.5M879.1,145.35h-4.5M879.1,68.25h-4.5" stroke="#000" stroke-width="1.7" fill="none"/>
<text x="853.04" y="421.29" font-size="21.41" fill="#000" textLength="11.93" lengthAdjust="spacingAndGlyphs" >0</text>
<text x="852.12" y="344.4" font-size="22.03" fill="#000" textLength="13.17" lengthAdjust="spacingAndGlyphs" >1</text>
<text x="852.77" y="267.3" font-size="21.71" fill="#000" textLength="12.59" lengthAdjust="spacingAndGlyphs" >2</text>
<text x="853.03" y="189.99" font-size="21.41" fill="#000" textLength="12.06" lengthAdjust="spacingAndGlyphs" >3</text>
<text x="853.49" y="113.1" font-size="22.03" fill="#000" textLength="11.34" lengthAdjust="spacingAndGlyphs" >4</text>
<text x="912.03" y="484.1" font-size="20.42" fill="#000" textLength="12.05" lengthAdjust="spacingAndGlyphs" >0</text>
<text x="991.01" y="484.3" font-size="21.01" fill="#000" textLength="13.3" lengthAdjust="spacingAndGlyphs" >1</text>
<text x="1071.56" y="484.3" font-size="20.71" fill="#000" textLength="12.71" lengthAdjust="spacingAndGlyphs" >2</text>
<text x="1151.72" y="484.1" font-size="20.42" fill="#000" textLength="12.18" lengthAdjust="spacingAndGlyphs" >3</text>
<text x="1232.09" y="484.3" font-size="21.01" fill="#000" textLength="11.45" lengthAdjust="spacingAndGlyphs" >4</text>
<text x="1311.52" y="484.09" font-size="20.71" fill="#000" textLength="12.18" lengthAdjust="spacingAndGlyphs" >5</text>
<text x="1391.18" y="484.1" font-size="20.42" fill="#000" textLength="12.44" lengthAdjust="spacingAndGlyphs" >6</text>
<text x="964.1" y="528.48" font-size="28.66" fill="#000" textLength="349.05" lengthAdjust="spacingAndGlyphs" >Absorbed pump power(W)</text>
<text x="842.34" y="378.34" font-size="28.88" fill="#000" textLength="235.67" lengthAdjust="spacingAndGlyphs" transform="rotate(-90 842.34 378.34)" >Output power (W)</text>
<polyline points="930.1,414.7 933.91,413.05 939.19,410.81 945.44,408.13 952.16,405.17 958.85,402.08 965,399 970.82,395.83 976.74,392.43 982.62,388.89 988.34,385.33 993.75,381.83 998.7,378.5 1003.12,375.36 1007.11,372.31 1010.79,369.34 1014.29,366.41 1017.71,363.47 1021.2,360.5 1024.83,357.4 1028.52,354.17 1032.14,350.94 1035.58,347.83 1038.71,344.98 1041.4,342.5 1043.29,340.6 1044.4,339.21 1045.19,338.07 1046.15,336.92 1047.73,335.49 1050.4,333.5 1054.37,330.94 1059.32,328.02 1064.89,324.81 1070.74,321.4 1076.52,317.87 1081.9,314.3 1086.85,310.61 1091.63,306.73 1096.36,302.72 1101.11,298.66 1105.99,294.63 1111.1,290.7 1116.47,286.91 1122.03,283.21 1127.72,279.53 1133.47,275.81 1139.22,271.99 1144.9,268 1150.52,263.83 1156.14,259.54 1161.76,255.14 1167.37,250.66 1172.98,246.11 1178.6,241.5 1184.17,236.87 1189.69,232.2 1195.21,227.47 1200.78,222.63 1206.46,217.65 1212.3,212.5 1218.2,207.17 1224.09,201.69 1230.09,196.06 1236.32,190.31 1242.88,184.46 1249.9,178.5 1257.74,172.16 1266.39,165.35 1275.38,158.44 1284.24,151.76 1292.5,145.66 1299.7,140.5 1305.99,136.25 1311.77,132.65 1316.96,129.62 1321.46,127.13 1325.17,125.11 1328,123.5" fill="none" stroke="#ff0000" stroke-width="9.2" stroke-linecap="round" stroke-linejoin="round"/>
<polyline points="940.2,413.6 942.8,412.21 946.3,410.35 950.49,408.11 955.16,405.6 960.06,402.89 965,400.1 970.23,397.1 975.99,393.78 981.99,390.28 987.97,386.72 993.63,383.22 998.7,379.9 1003.12,376.77 1007.11,373.74 1010.79,370.76 1014.29,367.82 1017.71,364.87 1021.2,361.9 1024.83,358.8 1028.52,355.57 1032.14,352.34 1035.58,349.23 1038.71,346.38 1041.4,343.9 1043.29,342 1044.4,340.61 1045.19,339.47 1046.15,338.31 1047.73,336.88 1050.4,334.9 1054.37,332.35 1059.32,329.45 1064.89,326.26 1070.74,322.87 1076.52,319.36 1081.9,315.8 1086.85,312.14 1091.63,308.31 1096.36,304.35 1101.11,300.31 1105.99,296.25 1111.1,292.2 1116.47,288.17 1122.03,284.13 1127.72,280.06 1133.47,275.94 1139.22,271.76 1144.9,267.5 1150.52,263.16 1156.14,258.76 1161.76,254.29 1167.37,249.76 1172.98,245.16 1178.6,240.5 1184.17,235.81 1189.69,231.11 1195.21,226.34 1200.78,221.47 1206.46,216.43 1212.3,211.2 1218.2,205.75 1224.09,200.1 1230.09,194.31 1236.32,188.39 1242.88,182.37 1249.9,176.3 1257.54,170.12 1265.73,163.8 1274.26,157.39 1282.91,150.93 1291.47,144.49 1299.7,138.1 1308.14,131.33 1317.08,124.04 1325.91,116.76 1334.06,110.01 1340.92,104.32 1345.9,100.2" fill="none" stroke="#00dd00" stroke-width="9.2" stroke-linecap="round" stroke-linejoin="round"/>
<polyline points="951.5,413.6 954.13,412.18 957.73,410.27 962.02,407.98 966.71,405.43 971.53,402.77 976.2,400.1 980.79,397.44 985.55,394.68 990.43,391.8 995.41,388.76 1000.44,385.54 1005.5,382.1 1010.84,378.19 1016.56,373.78 1022.32,369.19 1027.84,364.72 1032.81,360.69 1036.9,357.4 1039.74,355.15 1041.49,353.74 1042.69,352.76 1043.85,351.82 1045.51,350.5 1048.2,348.4 1051.98,345.46 1056.44,341.98 1061.4,338.13 1066.67,334.06 1072.07,329.93 1077.4,325.9 1082.76,321.91 1088.3,317.83 1093.96,313.69 1099.69,309.51 1105.43,305.34 1111.1,301.2 1116.73,297.1 1122.36,293.01 1128,288.93 1133.64,284.82 1139.27,280.69 1144.9,276.5 1150.52,272.28 1156.14,268.04 1161.76,263.76 1167.37,259.44 1172.98,255.06 1178.6,250.6 1184.17,246.08 1189.69,241.51 1195.21,236.88 1200.78,232.18 1206.46,227.39 1212.3,222.5 1218.2,217.56 1224.09,212.59 1230.09,207.53 1236.32,202.33 1242.88,196.94 1249.9,191.3 1257.54,185.28 1265.73,178.89 1274.26,172.31 1282.91,165.7 1291.47,159.24 1299.7,153.1 1308.14,146.93 1317.08,140.52 1325.91,134.26 1334.06,128.53 1340.92,123.72 1345.9,120.2" fill="none" stroke="#ff7f00" stroke-width="9.2" stroke-linecap="round" stroke-linejoin="round"/>
<text x="938.72" y="101.89" font-size="21.13" fill="#000" textLength="139.32" lengthAdjust="spacingAndGlyphs" >2at.%Tm:SrF</text>
<text x="1077.23" y="110.3" font-size="20.43" fill="#000" textLength="11.86" lengthAdjust="spacingAndGlyphs" >2</text>
<circle cx="929.2" cy="133.8" r="4.6" fill="#ff0000"/>
<circle cx="929.2" cy="166.9" r="4.6" fill="#00dd00"/>
<circle cx="929.2" cy="199.5" r="4.6" fill="#ff7f00"/>
<text x="955.15" y="138.7" font-size="20.85" fill="#000" textLength="59.85" lengthAdjust="spacingAndGlyphs" >T=2%</text>
<text x="1031.81" y="139.64" font-size="22.2" fill="#000" textLength="94.74" lengthAdjust="spacingAndGlyphs" >η=79.9%</text>
<text x="955.15" y="172.09" font-size="20.85" fill="#000" textLength="59.85" lengthAdjust="spacingAndGlyphs" >T=5%</text>
<text x="1031.84" y="173.14" font-size="22.2" fill="#000" textLength="92.59" lengthAdjust="spacingAndGlyphs" >η=81.8%</text>
<text x="955.15" y="205.58" font-size="21.69" fill="#000" textLength="72.17" lengthAdjust="spacingAndGlyphs" >T=10%</text>
<text x="1033.83" y="206.17" font-size="22.53" fill="#000" textLength="93.41" lengthAdjust="spacingAndGlyphs" >η=78.3%</text>
<text x="795.5" y="75" font-size="57" fill="#000">(</text><text x="816.1" y="75" font-size="57" fill="#000">b</text><text x="851.2" y="75" font-size="57" fill="#000">)</text>
<rect x="897.4" y="565.6" width="499.9" height="366.4" fill="none" stroke="#4a4a4a" stroke-width="2"/>
<path d="M948.6,932v-7M1048.65,932v-7M1148.7,932v-7M1248.75,932v-7M1348.8,932v-7M898.58,932v-4M998.62,932v-4M1098.67,932v-4M1198.72,932v-4M1298.78,932v-4M1398.83,932v-4M897.4,932h8M897.4,870.9h8M897.4,809.8h8M897.4,748.7h8M897.4,687.6h8M897.4,626.5h8M897.4,565.4h8M897.4,901.45h4.5M897.4,840.35h4.5M897.4,779.25h4.5M897.4,718.15h4.5M897.4,657.05h4.5M897.4,595.95h4.5" stroke="#4a4a4a" stroke-width="2" fill="none"/>
<text x="857.47" y="939.47" font-size="22.82" fill="#333" textLength="32.19" lengthAdjust="spacingAndGlyphs" stroke="#333" stroke-width="0.3">0.2</text>
<text x="857.48" y="878.37" font-size="22.82" fill="#333" textLength="31.94" lengthAdjust="spacingAndGlyphs" stroke="#333" stroke-width="0.3">0.3</text>
<text x="857.49" y="817.27" font-size="22.82" fill="#333" textLength="31.7" lengthAdjust="spacingAndGlyphs" stroke="#333" stroke-width="0.3">0.4</text>
<text x="857.48" y="756.17" font-size="22.82" fill="#333" textLength="31.94" lengthAdjust="spacingAndGlyphs" stroke="#333" stroke-width="0.3">0.5</text>
<text x="857.48" y="695.07" font-size="22.82" fill="#333" textLength="31.94" lengthAdjust="spacingAndGlyphs" stroke="#333" stroke-width="0.3">0.6</text>
<text x="857.47" y="633.97" font-size="22.82" fill="#333" textLength="32.19" lengthAdjust="spacingAndGlyphs" stroke="#333" stroke-width="0.3">0.7</text>
<text x="857.48" y="572.87" font-size="22.82" fill="#333" textLength="31.94" lengthAdjust="spacingAndGlyphs" stroke="#333" stroke-width="0.3">0.8</text>
<text x="922.7" y="959.28" font-size="22.25" fill="#333" textLength="50.49" lengthAdjust="spacingAndGlyphs" stroke="#333" stroke-width="0.3">1850</text>
<text x="1022.75" y="959.28" font-size="22.25" fill="#333" textLength="50.49" lengthAdjust="spacingAndGlyphs" stroke="#333" stroke-width="0.3">1900</text>
<text x="1122.8" y="959.28" font-size="22.25" fill="#333" textLength="50.49" lengthAdjust="spacingAndGlyphs" stroke="#333" stroke-width="0.3">1950</text>
<text x="1223.43" y="959.28" font-size="22.25" fill="#333" textLength="49.9" lengthAdjust="spacingAndGlyphs" stroke="#333" stroke-width="0.3">2000</text>
<text x="1323.48" y="959.28" font-size="22.25" fill="#333" textLength="49.9" lengthAdjust="spacingAndGlyphs" stroke="#333" stroke-width="0.3">2050</text>
<text x="1024.65" y="994.48" font-size="27.7" fill="#333" textLength="225.89" lengthAdjust="spacingAndGlyphs" stroke="#333" stroke-width="0.3">Wavelength (nm)</text>
<text x="831.59" y="926" font-size="29.09" fill="#333" textLength="350.63" lengthAdjust="spacingAndGlyphs" transform="rotate(-90 831.59 926)" stroke="#333" stroke-width="0.3">Average output power (W)</text>
<rect x="905.3" y="569.9" width="317.6" height="35" fill="#76d9d3" />
<text x="971.23" y="597.59" font-size="29.09" fill="#c42a2a" textLength="238.98" lengthAdjust="spacingAndGlyphs" stroke="#c42a2a" stroke-width="0.3">Experimental data</text>
<line x1="950" y1="682" x2="950" y2="932" stroke="#333" stroke-width="2.6" stroke-dasharray="12.5,14"/>
<line x1="1329.5" y1="679.4" x2="1329.5" y2="932" stroke="#333" stroke-width="2.6" stroke-dasharray="12.5,14"/>
<line x1="958" y1="844.5" x2="1322" y2="844.5" stroke="#e41e1e" stroke-width="2.6" />
<polygon points="950.2,844.5 966,838.8 962,844.5 966,850.2" fill="#e41e1e"/>
<polygon points="1329.8,844.5 1314,838.8 1318,844.5 1314,850.2" fill="#e41e1e"/>
<text x="1057.8" y="826.31" font-size="39.3" fill="#e41e1e" textLength="156.58" lengthAdjust="spacingAndGlyphs" >~189 nm</text>
<defs><radialGradient id="sph" cx="0.38" cy="0.32" r="0.7"><stop offset="0" stop-color="#ffb0b0"/><stop offset="0.2" stop-color="#f02020"/><stop offset="0.65" stop-color="#d00000"/><stop offset="1" stop-color="#980000"/></radialGradient></defs>
<g fill="url(#sph)"><circle cx="949.5" cy="695.1" r="5.9"/><circle cx="957.4" cy="707.3" r="5.9"/><circle cx="965.2" cy="686.9" r="5.9"/><circle cx="972.2" cy="703.7" r="5.9"/><circle cx="980" cy="699" r="5.9"/><circle cx="987.1" cy="727.9" r="5.9"/><circle cx="994.1" cy="736.5" r="5.9"/><circle cx="1001.9" cy="705.2" r="5.9"/><circle cx="1009" cy="642.2" r="5.9"/><circle cx="1016" cy="666.1" r="5.9"/><circle cx="1023.8" cy="672.4" r="5.9"/><circle cx="1030.9" cy="702.1" r="5.9"/><circle cx="1038.7" cy="711.5" r="5.9"/><circle cx="1045.7" cy="730.2" r="5.9"/><circle cx="1053.5" cy="754.5" r="5.9"/><circle cx="1060.6" cy="731" r="5.9"/><circle cx="1067.6" cy="710.7" r="5.9"/><circle cx="1074.6" cy="739.6" r="5.9"/><circle cx="1081.7" cy="689.6" r="5.9"/><circle cx="1088.7" cy="681.8" r="5.9"/><circle cx="1096.5" cy="670" r="5.9"/><circle cx="1103.6" cy="682.5" r="5.9"/><circle cx="1110.6" cy="652.1" r="5.9"/><circle cx="1118.4" cy="641.9" r="5.9"/><circle cx="1125.5" cy="661" r="5.9"/><circle cx="1132.5" cy="659.9" r="5.9"/><circle cx="1139.4" cy="655.2" r="5.9"/><circle cx="1146.4" cy="643.5" r="5.9"/><circle cx="1154.2" cy="656" r="5.9"/><circle cx="1161.3" cy="661" r="5.9"/><circle cx="1167.5" cy="652.1" r="5.9"/><circle cx="1174.6" cy="641.9" r="5.9"/><circle cx="1181.6" cy="637.2" r="5.9"/><circle cx="1188.6" cy="648.1" r="5.9"/><circle cx="1195.7" cy="629.4" r="5.9"/><circle cx="1202.7" cy="626.3" r="5.9"/><circle cx="1209.7" cy="642.7" r="5.9"/><circle cx="1216.8" cy="631.7" r="5.9"/><circle cx="1223.8" cy="642.7" r="5.9"/><circle cx="1230.9" cy="677.1" r="5.9"/><circle cx="1237.9" cy="695.8" r="5.9"/><circle cx="1244.9" cy="706.8" r="5.9"/><circle cx="1252" cy="719.3" r="5.9"/><circle cx="1259" cy="722.4" r="5.9"/><circle cx="1266" cy="726.3" r="5.9"/><circle cx="1272.3" cy="734.9" r="5.9"/><circle cx="1286.4" cy="760" r="5.9"/><circle cx="1300" cy="812.8" r="5.9"/><circle cx="1314.4" cy="823.4" r="5.9"/><circle cx="1321.1" cy="860.9" r="5.9"/><circle cx="1327.9" cy="891.8" r="5.9"/></g>
<circle cx="938.8" cy="590.5" r="6.3" fill="url(#sph)"/>
<rect x="1550.9" y="99.5" width="594.8" height="256.7" fill="none" stroke="#000" stroke-width="1.8"/>
<path d="M1551,356.2v8M1630.1,356.2v8M1709.2,356.2v8M1788.3,356.2v8M1867.4,356.2v8M1946.5,356.2v8M2025.6,356.2v8M2104.7,356.2v8M1590.55,356.2v4.5M1669.65,356.2v4.5M1748.75,356.2v4.5M1827.85,356.2v4.5M1906.95,356.2v4.5M1986.05,356.2v4.5M2065.15,356.2v4.5M2144.25,356.2v4.5M1550.9,356.2h-7.5M1550.9,321.8h-7.5M1550.9,287.4h-7.5M1550.9,253h-7.5M1550.9,218.6h-7.5M1550.9,184.2h-7.5M1550.9,149.8h-7.5M1550.9,115.4h-7.5M1550.9,339h-4.5M1550.9,304.6h-4.5M1550.9,270.2h-4.5M1550.9,235.8h-4.5M1550.9,201.4h-4.5M1550.9,167h-4.5M1550.9,132.6h-4.5M1550.9,98.2h-4.5M2145.7,356.1h7.5M2145.7,309.3h7.5M2145.7,262.5h7.5M2145.7,215.7h7.5M2145.7,168.9h7.5M2145.7,122.1h7.5M2145.7,332.7h4.5M2145.7,285.9h4.5M2145.7,239.1h4.5M2145.7,192.3h4.5M2145.7,145.5h4.5M2145.7,98.7h4.5" stroke="#000" stroke-width="1.8" fill="none"/>
<text x="1523.45" y="363.19" font-size="21.41" fill="#000" textLength="13.21" lengthAdjust="spacingAndGlyphs" stroke="#000" stroke-width="0.3">0</text>
<text x="1523.15" y="329" font-size="21.71" fill="#000" textLength="13.93" lengthAdjust="spacingAndGlyphs" stroke="#000" stroke-width="0.3">2</text>
<text x="1523.95" y="294.6" font-size="22.03" fill="#000" textLength="12.56" lengthAdjust="spacingAndGlyphs" stroke="#000" stroke-width="0.3">4</text>
<text x="1523.17" y="259.99" font-size="21.41" fill="#000" textLength="13.64" lengthAdjust="spacingAndGlyphs" stroke="#000" stroke-width="0.3">6</text>
<text x="1523.31" y="225.59" font-size="21.41" fill="#000" textLength="13.49" lengthAdjust="spacingAndGlyphs" stroke="#000" stroke-width="0.3">8</text>
<text x="1510.54" y="191.19" font-size="21.41" fill="#000" textLength="26.14" lengthAdjust="spacingAndGlyphs" stroke="#000" stroke-width="0.3">10</text>
<text x="1510.51" y="157" font-size="21.71" fill="#000" textLength="26.54" lengthAdjust="spacingAndGlyphs" stroke="#000" stroke-width="0.3">12</text>
<text x="1510.55" y="122.6" font-size="22.03" fill="#000" textLength="26.01" lengthAdjust="spacingAndGlyphs" stroke="#000" stroke-width="0.3">14</text>
<text x="1543.97" y="392.17" font-size="22.82" fill="#000" textLength="14.37" lengthAdjust="spacingAndGlyphs" stroke="#000" stroke-width="0.3">0</text>
<text x="1616.5" y="392.17" font-size="22.82" fill="#000" textLength="26.7" lengthAdjust="spacingAndGlyphs" stroke="#000" stroke-width="0.3">10</text>
<text x="1696.23" y="392.17" font-size="22.82" fill="#000" textLength="26.05" lengthAdjust="spacingAndGlyphs" stroke="#000" stroke-width="0.3">20</text>
<text x="1775.57" y="392.17" font-size="22.82" fill="#000" textLength="25.79" lengthAdjust="spacingAndGlyphs" stroke="#000" stroke-width="0.3">30</text>
<text x="1855.15" y="392.17" font-size="22.82" fill="#000" textLength="25.3" lengthAdjust="spacingAndGlyphs" stroke="#000" stroke-width="0.3">40</text>
<text x="1933.77" y="392.17" font-size="22.82" fill="#000" textLength="25.79" lengthAdjust="spacingAndGlyphs" stroke="#000" stroke-width="0.3">50</text>
<text x="2012.63" y="392.17" font-size="22.82" fill="#000" textLength="26.05" lengthAdjust="spacingAndGlyphs" stroke="#000" stroke-width="0.3">60</text>
<text x="2091.73" y="392.17" font-size="22.82" fill="#000" textLength="26.05" lengthAdjust="spacingAndGlyphs" stroke="#000" stroke-width="0.3">70</text>
<text x="2159.06" y="363.47" font-size="22.54" fill="#000" textLength="13.09" lengthAdjust="spacingAndGlyphs" stroke="#000" stroke-width="0.3">0</text>
<text x="2159.05" y="316.67" font-size="22.86" fill="#000" textLength="13.23" lengthAdjust="spacingAndGlyphs" stroke="#000" stroke-width="0.3">5</text>
<text x="2158.26" y="269.87" font-size="22.54" fill="#000" textLength="25.81" lengthAdjust="spacingAndGlyphs" stroke="#000" stroke-width="0.3">10</text>
<text x="2158.25" y="223.07" font-size="22.86" fill="#000" textLength="25.94" lengthAdjust="spacingAndGlyphs" stroke="#000" stroke-width="0.3">15</text>
<text x="2158.87" y="176.27" font-size="22.54" fill="#000" textLength="25.18" lengthAdjust="spacingAndGlyphs" stroke="#000" stroke-width="0.3">20</text>
<text x="2158.86" y="129.47" font-size="22.54" fill="#000" textLength="25.3" lengthAdjust="spacingAndGlyphs" stroke="#000" stroke-width="0.3">25</text>
<text x="1718.8" y="415.79" font-size="25.78" fill="#000" textLength="299.32" lengthAdjust="spacingAndGlyphs" stroke="#000" stroke-width="0.3">Absorbed pump power (W)</text>
<text x="1498.81" y="346.05" font-size="23.74" fill="#000" textLength="218.75" lengthAdjust="spacingAndGlyphs" transform="rotate(-90 1498.81 346.05)" stroke="#000" stroke-width="0.3">Output power (W)</text>
<text x="2209.26" y="355.43" font-size="24.49" fill="#000" textLength="255.36" lengthAdjust="spacingAndGlyphs" transform="rotate(-90 2209.26 355.43)" stroke="#000" stroke-width="0.3">Optical efficiency (%)</text>
<text x="1559.36" y="140.08" font-size="31.83" fill="#000" textLength="88.72" lengthAdjust="spacingAndGlyphs" stroke="#000" stroke-width="0.3">Er:CaF</text>
<text x="1648.37" y="150.6" font-size="23.86" fill="#000" textLength="12.59" lengthAdjust="spacingAndGlyphs" stroke="#000" stroke-width="0.3">2</text>
<text x="1669.35" y="140.07" font-size="33.06" fill="#000" textLength="65.18" lengthAdjust="spacingAndGlyphs" stroke="#000" stroke-width="0.3">laser</text>
<defs><clipPath id="cpc"><rect x="1550.9" y="100.4" width="594.8" height="268.7"/></clipPath></defs>
<g clip-path="url(#cpc)">
<polyline points="1557.7,353 1559.34,346.94 1561.47,338.79 1563.99,329.08 1566.83,318.34 1569.9,307.08 1573.11,295.82 1576.37,285.08 1579.6,275.4 1582.79,266.38 1586.03,257.37 1589.35,248.46 1592.79,239.77 1596.41,231.39 1600.24,223.44 1604.32,216 1608.7,209.2 1613.36,203.06 1618.26,197.5 1623.39,192.45 1628.74,187.82 1634.32,183.55 1640.1,179.56 1646.1,175.77 1652.3,172.1 1658.79,168.6 1665.63,165.36 1672.72,162.37 1680.01,159.63 1687.4,157.14 1694.83,154.89 1702.22,152.88 1709.5,151.1 1717.1,149.62 1725.28,148.49 1733.71,147.63 1742.03,146.99 1749.9,146.51 1756.98,146.15 1762.93,145.83 1767.4,145.5 1825.5,138.2 1897.3,137.4 1984.4,140.6 2070.7,149.5 2128,149.5" fill="none" stroke="#d81b5a" stroke-width="3.8" stroke-dasharray="14.5,17" stroke-dashoffset="4"/>
<polyline points="1557.7,358 1578.7,356.5 1593.9,354.5 1609.2,350.1 1623.5,348.5 1652.1,344.2 1709.5,331.9 1768.1,320.1" fill="none" stroke="#f0b43c" stroke-width="2.6" stroke-linejoin="round" />
<polyline points="1557.7,355.5 1566.3,352 1578.7,349.1 1593.9,344.4 1622.5,334.8 1652.1,323.1 1710.1,304.7 1768.1,290.8" fill="none" stroke="#8cc63f" stroke-width="2.6" stroke-linejoin="round" />
<line x1="1557" y1="358.5" x2="2075" y2="96.4" stroke="#d8174f" stroke-width="3.4" />
<g fill="#f0b43c"><polygon points="1573.3,363.1 1584.1,363.1 1578.7,352.6"/><polygon points="1588.5,360.3 1599.3,360.3 1593.9,349.8"/><polygon points="1603.8,354.6 1614.6,354.6 1609.2,344.1"/><polygon points="1618.1,354.6 1628.9,354.6 1623.5,344.1"/><polygon points="1646.7,347.7 1657.5,347.7 1652.1,337.2"/><polygon points="1704.1,335.4 1714.9,335.4 1709.5,324.9"/><polygon points="1762.7,323.6 1773.5,323.6 1768.1,313.1"/></g>
<g fill="#8cc63f"><circle cx="1566.3" cy="352" r="5"/><circle cx="1578.7" cy="349.1" r="5"/><circle cx="1593.9" cy="344.4" r="5"/><circle cx="1622.5" cy="334.8" r="5"/><circle cx="1652.1" cy="323.1" r="5"/><circle cx="1710.1" cy="304.7" r="5"/><circle cx="1768.1" cy="290.8" r="5"/></g>
<g fill="#d8174f"><polygon points="1552.3,356.1 1563.1,356.1 1557.7,366.6"/><polygon points="1559,356.1 1569.8,356.1 1564.4,366.6"/><polygon points="1574.2,348.5 1585,348.5 1579.6,359"/><polygon points="1588.5,339 1599.3,339 1593.9,349.5"/><polygon points="1601.8,332.3 1612.6,332.3 1607.2,342.8"/><polygon points="1617.1,324.7 1627.9,324.7 1622.5,335.2"/><polygon points="1646.7,310.9 1657.5,310.9 1652.1,321.4"/><polygon points="1674.9,295.5 1685.7,295.5 1680.3,306"/><polygon points="1704.1,278.6 1714.9,278.6 1709.5,289.1"/><polygon points="1732.9,263.2 1743.7,263.2 1738.3,273.7"/><polygon points="1762,246 1772.8,246 1767.4,256.5"/><polygon points="1791.1,229.9 1801.9,229.9 1796.5,240.4"/><polygon points="1820.1,213.8 1830.9,213.8 1825.5,224.3"/><polygon points="1892.7,177.5 1903.5,177.5 1898.1,188"/><polygon points="1979,138.8 1989.8,138.8 1984.4,149.3"/><polygon points="2066.1,104.9 2076.9,104.9 2071.5,115.4"/></g>
<g fill="#fff" stroke="#d81b5a" stroke-width="1.7"><circle cx="1557.7" cy="353" r="4.9"/><circle cx="1579.6" cy="275.4" r="4.9"/><circle cx="1608.7" cy="209.2" r="4.9"/><circle cx="1652.3" cy="172.1" r="4.9"/><circle cx="1709.5" cy="151.1" r="4.9"/><circle cx="1767.4" cy="145.5" r="4.9"/><circle cx="1825.5" cy="138.2" r="4.9"/><circle cx="1897.3" cy="137.4" r="4.9"/><circle cx="1984.4" cy="140.6" r="4.9"/><circle cx="2070.7" cy="149.5" r="4.9"/></g>
</g>
<polygon points="2123.9,143.6 2140.5,149.5 2123.9,155.4" fill="#d81b5a"/>
<g fill="#d8174f"><polygon points="1798.7,248.97 1810.5,248.97 1804.6,260.77"/></g>
<g fill="#f0b43c"><polygon points="1798.15,286.07 1810.65,286.07 1804.4,275.67"/></g>
<circle cx="1804.3" cy="312.2" r="5.6" fill="#8cc63f"/>
<line x1="1787.6" y1="340.9" x2="1821.7" y2="340.9" stroke="#d81b5a" stroke-width="3.8" />
<circle cx="1805" cy="340.9" r="5" fill="#fff" stroke="#d81b5a" stroke-width="1.7"/>
<text x="1820.99" y="259.4" font-size="12.03" fill="#000" textLength="8.22" lengthAdjust="spacingAndGlyphs" font-style="italic" stroke="#000" stroke-width="0.3">T</text>
<text x="1829.13" y="264.6" font-size="10.28" fill="#000" textLength="18.31" lengthAdjust="spacingAndGlyphs" font-style="italic" stroke="#000" stroke-width="0.3">OC</text>
<text x="1820.99" y="288" font-size="12.03" fill="#000" textLength="8.22" lengthAdjust="spacingAndGlyphs" font-style="italic" stroke="#000" stroke-width="0.3">T</text>
<text x="1829.13" y="293.2" font-size="10.28" fill="#000" textLength="18.31" lengthAdjust="spacingAndGlyphs" font-style="italic" stroke="#000" stroke-width="0.3">OC</text>
<text x="1820.99" y="317.1" font-size="12.03" fill="#000" textLength="8.22" lengthAdjust="spacingAndGlyphs" font-style="italic" stroke="#000" stroke-width="0.3">T</text>
<text x="1829.13" y="322.3" font-size="10.28" fill="#000" textLength="18.31" lengthAdjust="spacingAndGlyphs" font-style="italic" stroke="#000" stroke-width="0.3">OC</text>
<text x="1851.96" y="260.12" font-size="12.12" fill="#000" textLength="38.38" lengthAdjust="spacingAndGlyphs" stroke="#000" stroke-width="0.3">= 5%,</text>
<text x="1890.82" y="259.62" font-size="10.4" fill="#000" textLength="6.73" lengthAdjust="spacingAndGlyphs" font-style="italic" stroke="#000" stroke-width="0.3">η</text>
<text x="1898.8" y="259.58" font-size="11.55" fill="#000" textLength="51.96" lengthAdjust="spacingAndGlyphs" stroke="#000" stroke-width="0.3">= 24.9%</text>
<text x="1851.99" y="288.73" font-size="12.05" fill="#000" textLength="44.74" lengthAdjust="spacingAndGlyphs" stroke="#000" stroke-width="0.3">= 10%,</text>
<text x="1897.32" y="288.19" font-size="10.53" fill="#000" textLength="6.73" lengthAdjust="spacingAndGlyphs" font-style="italic" stroke="#000" stroke-width="0.3">η</text>
<text x="1905.27" y="288.18" font-size="11.69" fill="#000" textLength="45.55" lengthAdjust="spacingAndGlyphs" stroke="#000" stroke-width="0.3">= 8.5%</text>
<text x="1851.96" y="317.93" font-size="12.05" fill="#000" textLength="38.38" lengthAdjust="spacingAndGlyphs" stroke="#000" stroke-width="0.3">= 2%,</text>
<text x="1890.82" y="317.39" font-size="10.53" fill="#000" textLength="6.73" lengthAdjust="spacingAndGlyphs" font-style="italic" stroke="#000" stroke-width="0.3">η</text>
<text x="1898.8" y="317.38" font-size="11.63" fill="#000" textLength="51.96" lengthAdjust="spacingAndGlyphs" stroke="#000" stroke-width="0.3">= 15.1%</text>
<text x="1829.13" y="347" font-size="14.76" fill="#000" textLength="192.7" lengthAdjust="spacingAndGlyphs" stroke="#000" stroke-width="0.3">Optical conversion efficiency,</text>
<text x="2023.03" y="346" font-size="13.48" fill="#000" textLength="8.64" lengthAdjust="spacingAndGlyphs" font-style="italic" stroke="#000" stroke-width="0.3">T</text>
<text x="2030.29" y="350.89" font-size="11.27" fill="#000" textLength="19.24" lengthAdjust="spacingAndGlyphs" font-style="italic" stroke="#000" stroke-width="0.3">OC</text>
<text x="2053.43" y="345.97" font-size="13.05" fill="#000" textLength="30.69" lengthAdjust="spacingAndGlyphs" stroke="#000" stroke-width="0.3">= 5%</text>
<defs><linearGradient id="body" x1="0" y1="0" x2="1" y2="0"><stop offset="0" stop-color="#c4d0d8"/><stop offset="0.07" stop-color="#e2eaee"/><stop offset="0.14" stop-color="#a4b4c0"/><stop offset="0.5" stop-color="#9aadba"/><stop offset="0.88" stop-color="#8c9eac"/><stop offset="0.95" stop-color="#b4c2ca"/><stop offset="1" stop-color="#9aa8b2"/></linearGradient><linearGradient id="scr" x1="0" y1="0" x2="0" y2="1"><stop offset="0" stop-color="#5e9462"/><stop offset="0.35" stop-color="#8abb84"/><stop offset="0.7" stop-color="#a0c896"/><stop offset="1" stop-color="#7aac74"/></linearGradient><radialGradient id="btn" cx="0.45" cy="0.35" r="0.7"><stop offset="0" stop-color="#ff7070"/><stop offset="0.4" stop-color="#e02424"/><stop offset="1" stop-color="#9a1010"/></radialGradient></defs>
<rect x="2054.2" y="177.9" width="82.5" height="120.1" fill="url(#body)" />
<rect x="2062" y="178" width="68" height="17" fill="#b4c4ce" />
<circle cx="2094.5" cy="187.5" r="3" fill="none" stroke="#8898a4" stroke-width="1"/>
<rect x="2064.1" y="196.4" width="65.3" height="55.4" fill="#2a5232" />
<rect x="2065.8" y="199" width="62" height="51.2" fill="url(#scr)" />
<line x1="2068" y1="201.5" x2="2125" y2="201.5" stroke="#2e5a34" stroke-width="1.6" stroke-dasharray="4,1.2,2.5,1"/>
<line x1="2068" y1="205.8" x2="2124" y2="205.8" stroke="#2e5a34" stroke-width="1.6" stroke-dasharray="4,1.2,2.5,1"/>
<line x1="2068" y1="210" x2="2123" y2="210" stroke="#2e5a34" stroke-width="1.6" stroke-dasharray="4,1.2,2.5,1"/>
<rect x="2068" y="209" width="8" height="3" fill="#1f4026" />
<text x="2072.77" y="235.27" font-size="23.14" fill="#1a321e" textLength="37.75" lengthAdjust="spacingAndGlyphs" stroke="#1a321e" stroke-width="0.9">14.51</text>
<text x="2115.98" y="235" font-size="8.7" fill="#284a2c" textLength="3.03" lengthAdjust="spacingAndGlyphs" >W</text>
<rect x="2066.5" y="242.5" width="26.5" height="6" fill="#24482a" />
<rect x="2094" y="244.5" width="33" height="4" fill="#3a6a40" />
<rect x="2062.5" y="252" width="67.5" height="7.5" fill="#ccdae2" />
<path d="M2067.9,272 L2069.4,266 Q2073.4,259.5 2077.4,266 L2078.9,272 Q2073.4,273.5 2067.9,272 Z" fill="url(#btn)" stroke="#7a0c0c" stroke-width="0.5"/>
<path d="M2081.7,272 L2083.2,266 Q2087.2,259.5 2091.2,266 L2092.7,272 Q2087.2,273.5 2081.7,272 Z" fill="url(#btn)" stroke="#7a0c0c" stroke-width="0.5"/>
<path d="M2096.2,272 L2097.7,266 Q2101.7,259.5 2105.7,266 L2107.2,272 Q2101.7,273.5 2096.2,272 Z" fill="url(#btn)" stroke="#7a0c0c" stroke-width="0.5"/>
<path d="M2111.4,272 L2112.9,266 Q2116.9,259.5 2120.9,266 L2122.4,272 Q2116.9,273.5 2111.4,272 Z" fill="url(#btn)" stroke="#7a0c0c" stroke-width="0.5"/>
<path d="M2088.5,289 L2090.5,282 Q2094.5,276 2098.5,282 L2100.5,289 Q2094.5,291 2088.5,289 Z" fill="url(#btn)" stroke="#7a0c0c" stroke-width="0.5"/>
<ellipse cx="2094.5" cy="295.5" rx="6.5" ry="4.5" fill="url(#btn)"/><ellipse cx="2081.5" cy="297" rx="5.5" ry="3.5" fill="url(#btn)"/><ellipse cx="2107.5" cy="297" rx="5.5" ry="3.5" fill="url(#btn)"/>
<rect x="2054.2" y="298" width="82.5" height="4" fill="#fff" />
<polygon points="1574,605.45 1576.5,606.99 1579,606.55 1581.5,607.05 1584,605.98 1586.5,607.77 1589,607.76 1591.5,607.61 1594,607.94 1596.5,610.22 1599,609.1 1601.5,611.91 1604,611.13 1606.5,611.48 1609,613.14 1611.5,613.46 1614,614.11 1616.5,614.03 1619,614.99 1621.5,607.69 1624,607.35 1626.5,605.46 1629,606.82 1631.5,607.32 1634,607.12 1636.5,605.99 1639,607.3 1641.5,606.5 1644,605.5 1646.5,607.21 1649,605.87 1651.5,607.07 1654,606.38 1656.5,606.7 1659,606.76 1661.5,606.73 1664,605.78 1666.5,607.88 1669,606.61 1671.5,606.88 1674,607.51 1676.5,607.74 1679,607.01 1681.5,607.18 1684,606.53 1686.5,608.08 1689,607.73 1691.5,607.99 1694,607.85 1696.5,607.34 1699,606.26 1701.5,607.42 1704,607.3 1706.5,607 1709,607.42 1711.5,607.61 1714,606.35 1716.5,606.7 1719,608.23 1721.5,608.12 1724,606.95 1726.5,607.9 1729,606.48 1731.5,608.13 1734,606.73 1736.5,607.27 1739,606.89 1741.5,606.93 1744,608.16 1746.5,607.32 1749,606.69 1751.5,607.59 1754,606.93 1756.5,607.84 1759,608.07 1761.5,606.81 1764,607.11 1766.5,607.17 1769,608.33 1771.5,607.35 1774,608.65 1776.5,607.41 1779,607.81 1781.5,607.67 1784,607.12 1786.5,609.14 1789,607.71 1791.5,607.75 1794,608.73 1796.5,607.67 1799,609.07 1801.5,609.01 1804,608.55 1806.5,609.29 1809,609.02 1811.5,608.4 1814,608.11 1816.5,608.7 1819,608.07 1821.5,608.58 1824,608.73 1826.5,610.09 1829,608.64 1831.5,610.46 1834,609.12 1836.5,609.95 1839,610.61 1841.5,610.59 1844,609.81 1846.5,609.35 1849,609.11 1851.5,611.02 1854,610.77 1856.5,611.04 1859,610.03 1861.5,611.28 1864,611.56 1866.5,609.85 1869,609.87 1871.5,609.9 1874,611.56 1876.5,610.67 1879,611.73 1881.5,611.35 1884,610.26 1886.5,611.85 1889,611.74 1891.5,610.13 1894,611.15 1896.5,610.62 1899,609.21 1901.5,608.86 1904,610.76 1906.5,608.65 1909,608.74 1911.5,608.25 1914,608.67 1916.5,609.66 1919,608.03 1921.5,607.5 1924,607.18 1926.5,609.07 1929,608.04 1931.5,607.21 1934,608.31 1936.5,608.22 1939,606.34 1941.5,607.81 1944,606.95 1946.5,605.79 1949,605.68 1951.5,604.96 1954,606.73 1956.5,605.79 1959,606.21 1961.5,604.59 1964,604.4 1966.5,605.45 1969,604 1971.5,604.33 1974,603.37 1976.5,603.15 1979,603.61 1981.5,602.35 1984,602.88 1986.5,603.43 1989,602.78 1991.5,604.3 1994,604.74 1996.5,604.46 1999,604.67 2001.5,603.2 2004,605.09 2006.5,605.14 2009,605.28 2011.5,604.08 2014,605.25 2016.5,605.44 2019,605.21 2021.5,604.75 2024,605.47 2026.5,604.56 2029,606.23 2031.5,605.4 2034,606.13 2036.5,605.2 2039,604.97 2041.5,605.89 2044,605.8 2046.5,605.39 2049,604.96 2051.5,606.58 2054,605.7 2056.5,605.41 2059,606.13 2061.5,606.46 2064,606.61 2066.5,605.64 2069,606.06 2071.5,605.8 2074,606.78 2076.5,605.28 2079,604.67 2081.5,605.58 2084,604.7 2086.5,606.18 2089,605.65 2091.5,604.84 2094,605.53 2096.5,605.69 2099,605.81 2101.5,603.98 2104,603.96 2106.5,605.05 2109,604.77 2111.5,603.94 2114,603.43 2116.5,603.05 2119,604.64 2121.5,603.34 2124,604.76 2126.5,604.25 2129,603.89 2131.5,603.32 2134,604.37 2134,613.57 2131.5,614.87 2129,614.48 2126.5,614.9 2124,613.46 2121.5,615.26 2119,614.74 2116.5,615.62 2114,615.17 2111.5,614.8 2109,615.35 2106.5,613.99 2104,615.24 2101.5,614.64 2099,615.45 2096.5,616.28 2094,615.72 2091.5,616.06 2089,616.5 2086.5,615.43 2084,616.53 2081.5,616.89 2079,615.23 2076.5,616.6 2074,617.31 2071.5,616.63 2069,616 2066.5,616.7 2064,617.21 2061.5,616.5 2059,616.56 2056.5,615.41 2054,616.67 2051.5,616.13 2049,615.75 2046.5,615.42 2044,615.18 2041.5,615.89 2039,614.96 2036.5,615.58 2034,615.76 2031.5,615.88 2029,616.39 2026.5,614.65 2024,615.87 2021.5,614.64 2019,614.58 2016.5,615.73 2014,615.98 2011.5,615.87 2009,613.85 2006.5,613.98 2004,614.21 2001.5,614.6 1999,614.06 1996.5,615.42 1994,613.53 1991.5,613.22 1989,614.05 1986.5,614.74 1984,614.48 1981.5,614.08 1979,613.06 1976.5,613.28 1974,613.38 1971.5,614.86 1969,614.97 1966.5,614.65 1964,616.07 1961.5,615.14 1959,615.49 1956.5,616.27 1954,616.05 1951.5,615.9 1949,616.04 1946.5,616.91 1944,617.39 1941.5,617.35 1939,617.73 1936.5,616.83 1934,618.94 1931.5,617.16 1929,618.21 1926.5,618.06 1924,617.62 1921.5,619.22 1919,619.02 1916.5,618.8 1914,620.48 1911.5,620.53 1909,620.35 1906.5,619.27 1904,620.01 1901.5,619.8 1899,621.41 1896.5,619.85 1894,619.86 1891.5,621.75 1889,621.21 1886.5,621.63 1884,621.16 1881.5,621.09 1879,621.34 1876.5,621.77 1874,622.15 1871.5,622.14 1869,620.23 1866.5,621.27 1864,621.92 1861.5,621.2 1859,620.42 1856.5,620.5 1854,620.92 1851.5,619.98 1849,619.79 1846.5,620.93 1844,621.41 1841.5,620.66 1839,619.82 1836.5,620.81 1834,619.35 1831.5,620.51 1829,619.42 1826.5,618.65 1824,620.44 1821.5,619.53 1819,619.8 1816.5,618.67 1814,619.64 1811.5,618.83 1809,619.09 1806.5,620.03 1804,618.17 1801.5,619.82 1799,617.72 1796.5,617.63 1794,618.51 1791.5,619.63 1789,619.43 1786.5,619.44 1784,618.15 1781.5,618.85 1779,618.71 1776.5,618.84 1774,618.53 1771.5,619.51 1769,618.54 1766.5,618.87 1764,618.87 1761.5,617.3 1759,619.04 1756.5,617.68 1754,619.17 1751.5,617.58 1749,617.99 1746.5,618.16 1744,618.09 1741.5,617.67 1739,618.2 1736.5,617.17 1734,618.36 1731.5,617.51 1729,616.97 1726.5,617.1 1724,618.74 1721.5,618.66 1719,618.6 1716.5,618.1 1714,617.3 1711.5,617.77 1709,618.11 1706.5,617.48 1704,617.76 1701.5,617.1 1699,618.55 1696.5,617.54 1694,617.71 1691.5,618.17 1689,618.31 1686.5,616.49 1684,617.65 1681.5,617.42 1679,618.47 1676.5,616.86 1674,617.5 1671.5,618.44 1669,616.62 1666.5,617.52 1664,617.73 1661.5,616.22 1659,616.98 1656.5,617.8 1654,617.02 1651.5,617.5 1649,617.2 1646.5,616.87 1644,616.46 1641.5,617.19 1639,617.72 1636.5,617.12 1634,617.27 1631.5,616.69 1629,617.29 1626.5,616.43 1624,617.55 1621.5,617.18 1619,624.87 1616.5,623.94 1614,625.14 1611.5,623.95 1609,623.77 1606.5,622.4 1604,622.08 1601.5,621.19 1599,620.73 1596.5,618.81 1594,620.02 1591.5,618.72 1589,616.59 1586.5,617.38 1584,616.34 1581.5,617.85 1579,616.95 1576.5,616.37 1574,617.51" fill="#92c83e"/>
<polygon points="1574,693.44 1576.5,691.04 1579,693.01 1581.5,692.53 1584,692.31 1586.5,692.19 1589,691.74 1591.5,692.45 1594,692.98 1596.5,691.62 1599,690.5 1601.5,691.56 1604,691.29 1606.5,691.61 1609,690.8 1611.5,690.98 1614,691.41 1616.5,691.78 1619,692.3 1621.5,691.85 1624,691.91 1626.5,690.83 1629,692.39 1631.5,691.84 1634,691.06 1636.5,691.12 1639,691.13 1641.5,690.74 1644,692.14 1646.5,691.26 1649,691.65 1651.5,690.33 1654,691.56 1656.5,692.08 1659,692.08 1661.5,692.18 1664,690.99 1666.5,691.35 1669,690.45 1671.5,690.96 1674,691.23 1676.5,691.73 1679,691.94 1681.5,691.5 1684,691.25 1686.5,690.12 1689,689.8 1691.5,691.72 1694,690.03 1696.5,690.57 1699,689.54 1701.5,689.88 1704,689.63 1706.5,689.46 1709,689.43 1711.5,691.47 1714,689.81 1716.5,690.31 1719,691.87 1721.5,689.37 1724,690.85 1726.5,689.52 1729,689.29 1731.5,691.18 1734,691.51 1736.5,691.39 1739,690.35 1741.5,690.82 1744,689.35 1746.5,691.34 1749,690.56 1751.5,690.36 1754,691.5 1756.5,690.55 1759,689.01 1761.5,689.33 1764,689.09 1766.5,689.28 1769,690.38 1771.5,691.52 1774,689.73 1776.5,689.81 1779,690.81 1781.5,691.06 1784,690.35 1786.5,689.29 1789,690.38 1791.5,691.23 1794,689.63 1796.5,690.01 1799,690.79 1801.5,690.27 1804,690.05 1806.5,692.04 1809,690.69 1811.5,691.1 1814,690.71 1816.5,690.13 1819,691.77 1821.5,691.07 1824,691.34 1826.5,692.34 1829,689.86 1831.5,690.11 1834,692.06 1836.5,689.95 1839,691.01 1841.5,690.61 1844,690.45 1846.5,691.42 1849,690.84 1851.5,691.33 1854,692.05 1856.5,693.18 1859,691.73 1861.5,691.81 1864,693.46 1866.5,693.7 1869,693.38 1871.5,693.32 1874,692.13 1876.5,693.04 1879,692.1 1881.5,692.98 1884,693.32 1886.5,692.22 1889,693.28 1891.5,693.67 1894,695.5 1896.5,695.8 1899,695.15 1901.5,694.82 1904,694.58 1906.5,696.71 1909,696.05 1911.5,695.11 1914,696.05 1916.5,695.43 1919,694.55 1921.5,696.7 1924,694.46 1926.5,696.04 1929,696.49 1931.5,695.96 1934,696.7 1936.5,695.58 1939,695.21 1941.5,695.58 1944,694.48 1946.5,695.24 1949,695.81 1951.5,695.73 1954,696.3 1956.5,695.64 1959,695.59 1961.5,694.1 1964,694.47 1966.5,695.87 1969,693.27 1971.5,694.99 1974,694.74 1976.5,693 1979,694.76 1981.5,695.12 1984,692.94 1986.5,694.58 1989,694.42 1991.5,692.94 1994,692.78 1996.5,693.53 1999,693.85 2001.5,692.89 2004,692.52 2006.5,693.57 2009,694 2011.5,693.53 2014,693.12 2016.5,693.54 2019,692.42 2021.5,692.64 2024,694.21 2026.5,693.9 2029,694.37 2031.5,692.53 2034,693.29 2036.5,692.09 2039,694.56 2041.5,693.42 2044,693.15 2046.5,692.78 2049,693.22 2051.5,694.35 2054,694.14 2056.5,693.71 2059,693.75 2061.5,694.27 2064,693.76 2066.5,693.52 2069,694.25 2071.5,693 2074,693.42 2076.5,692.98 2079,692.58 2081.5,693.3 2084,693.17 2086.5,693.56 2089,693.55 2091.5,694.76 2094,693.61 2096.5,694.91 2099,692.78 2101.5,693.04 2104,693.55 2106.5,694.67 2109,694.74 2111.5,693.71 2114,693.58 2116.5,695.13 2119,694.55 2121.5,694.71 2124,695.07 2126.5,694.8 2129,693.63 2131.5,694.64 2134,693.95 2134,705.88 2131.5,706.35 2129,706.99 2126.5,707.89 2124,707.74 2121.5,707.23 2119,707.72 2116.5,706.53 2114,707.48 2111.5,707.31 2109,706.78 2106.5,705.71 2104,706 2101.5,706.81 2099,705.64 2096.5,705.84 2094,706.62 2091.5,707.33 2089,705.66 2086.5,705.31 2084,705.05 2081.5,705.76 2079,706.92 2076.5,707.25 2074,705.33 2071.5,705.31 2069,706.31 2066.5,706.85 2064,705.63 2061.5,704.83 2059,705.58 2056.5,706.59 2054,705.29 2051.5,704.67 2049,705.86 2046.5,706.17 2044,706.76 2041.5,705.51 2039,705.49 2036.5,706.01 2034,705.35 2031.5,705.6 2029,704.98 2026.5,706.69 2024,705.72 2021.5,706.64 2019,706.67 2016.5,704.8 2014,705.44 2011.5,706.53 2009,706.75 2006.5,706.99 2004,704.84 2001.5,707.37 1999,706.09 1996.5,705.56 1994,706.51 1991.5,707.03 1989,706.51 1986.5,705.6 1984,707.3 1981.5,707.57 1979,706.94 1976.5,707.91 1974,707.67 1971.5,707.94 1969,706.95 1966.5,707.48 1964,707.66 1961.5,707.63 1959,708.33 1956.5,707.92 1954,707.16 1951.5,707.62 1949,708.9 1946.5,707.54 1944,707.84 1941.5,708.83 1939,706.64 1936.5,706.96 1934,708.65 1931.5,707.69 1929,707.86 1926.5,707.35 1924,708.05 1921.5,708.7 1919,708.17 1916.5,708.15 1914,708.58 1911.5,707.44 1909,707.19 1906.5,709.46 1904,707.13 1901.5,708.02 1899,709.32 1896.5,706.42 1894,707.14 1891.5,706.83 1889,705.18 1886.5,704.55 1884,705.57 1881.5,705.09 1879,704.47 1876.5,704.16 1874,704.89 1871.5,705.23 1869,706.19 1866.5,704.47 1864,706.79 1861.5,706.31 1859,704.23 1856.5,704.75 1854,704.73 1851.5,704.82 1849,705.11 1846.5,705.38 1844,703.5 1841.5,704.1 1839,703.7 1836.5,703.58 1834,704.12 1831.5,703.14 1829,704.09 1826.5,703.25 1824,703 1821.5,704.61 1819,703.14 1816.5,702.4 1814,703.49 1811.5,702.23 1809,703.39 1806.5,703.93 1804,704.36 1801.5,703.64 1799,703.14 1796.5,702.47 1794,702.35 1791.5,702.47 1789,702.1 1786.5,701.87 1784,703.12 1781.5,702.39 1779,703.77 1776.5,703.19 1774,702.78 1771.5,704.18 1769,704.12 1766.5,703.18 1764,701.92 1761.5,701.62 1759,702.91 1756.5,702.57 1754,702.17 1751.5,701.89 1749,702.56 1746.5,701.89 1744,702.75 1741.5,702.43 1739,702.21 1736.5,703.48 1734,703.63 1731.5,703.61 1729,702.87 1726.5,702.61 1724,703.68 1721.5,702.67 1719,702.19 1716.5,701.92 1714,703.63 1711.5,702.26 1709,702.54 1706.5,703.79 1704,704.4 1701.5,703.69 1699,702.9 1696.5,703.84 1694,704.28 1691.5,702.64 1689,703.38 1686.5,704.31 1684,702.76 1681.5,702.22 1679,702.58 1676.5,703.98 1674,702.31 1671.5,704.56 1669,702.68 1666.5,703.69 1664,703.52 1661.5,704.03 1659,703.01 1656.5,702.92 1654,702.67 1651.5,703.1 1649,703.53 1646.5,704.68 1644,703.5 1641.5,704.61 1639,704.49 1636.5,704.75 1634,703.74 1631.5,704.24 1629,702.81 1626.5,704.96 1624,704.48 1621.5,704.8 1619,704.54 1616.5,703 1614,705.18 1611.5,702.99 1609,702.75 1606.5,704.2 1604,705.12 1601.5,703.68 1599,702.98 1596.5,703.66 1594,704.43 1591.5,705.66 1589,704.15 1586.5,703.59 1584,704.81 1581.5,704.09 1579,705.25 1576.5,703.62 1574,705.91" fill="#ec3b3b"/>
<polygon points="1574,782.28 1576.5,782.48 1579,782.91 1581.5,781.78 1584,782.19 1586.5,783.48 1589,783.16 1591.5,782.77 1594,782.73 1596.5,782.5 1599,782.73 1601.5,782.85 1604,782 1606.5,782.98 1609,782.68 1611.5,782.64 1614,782.03 1616.5,782.09 1619,782.84 1621.5,781.47 1624,782.93 1626.5,782.29 1629,782.04 1631.5,781.73 1634,782.11 1636.5,782.26 1639,782.54 1641.5,782.17 1644,782.48 1646.5,782.52 1649,782.15 1651.5,782.33 1654,781.31 1656.5,782.29 1659,780.88 1661.5,781.42 1664,781.18 1666.5,782.19 1669,781.68 1671.5,781.84 1674,782.09 1676.5,781.38 1679,780.99 1681.5,781.48 1684,780.72 1686.5,781.43 1689,780.37 1691.5,780.82 1694,781.84 1696.5,781.01 1699,781.31 1701.5,781.12 1704,781.77 1706.5,780.82 1709,780.43 1711.5,781.73 1714,780.92 1716.5,780.65 1719,779.9 1721.5,781.02 1724,781.05 1726.5,781.19 1729,781.29 1731.5,780.11 1734,781.33 1736.5,780.61 1739,781.27 1741.5,780.91 1744,780.96 1746.5,780.89 1749,781.78 1751.5,781.47 1754,781.05 1756.5,781.98 1759,780.92 1761.5,781.88 1764,781.25 1766.5,782.22 1769,782.31 1771.5,781.42 1774,782.46 1776.5,781.31 1779,781.91 1781.5,782.46 1784,781.38 1786.5,782.55 1789,782.6 1791.5,781.42 1794,782.67 1796.5,781.91 1799,782.09 1801.5,782.99 1804,781.32 1806.5,782.87 1809,782.04 1811.5,782.9 1814,782.55 1816.5,782.38 1819,781.68 1821.5,781.54 1824,782.17 1826.5,782.54 1829,782.69 1831.5,782.7 1834,782.63 1836.5,781.01 1839,781.27 1841.5,782.13 1844,781.65 1846.5,781.99 1849,781.31 1851.5,781.69 1854,781.44 1856.5,781.75 1859,781.07 1861.5,782.39 1864,782.19 1866.5,781.82 1869,780.75 1871.5,781.12 1874,781.37 1876.5,781.98 1879,780.66 1881.5,780.76 1884,782.26 1886.5,780.64 1889,781.03 1891.5,781.07 1894,781.47 1896.5,780.73 1899,780.58 1901.5,781.65 1904,780.53 1906.5,781.09 1909,781.85 1911.5,781.91 1914,781.27 1916.5,781.41 1919,781.3 1921.5,781.39 1924,781.55 1926.5,780.74 1929,781.41 1931.5,782.35 1934,782.31 1936.5,781.19 1939,780.96 1941.5,781.96 1944,782.22 1946.5,782.14 1949,781.03 1951.5,780.87 1954,782.28 1956.5,781.08 1959,782.52 1961.5,781.01 1964,781.21 1966.5,782.23 1969,782.75 1971.5,782.5 1974,782.47 1976.5,782.4 1979,782.49 1981.5,781.28 1984,782.21 1986.5,781.65 1989,781.69 1991.5,782.62 1994,781.95 1996.5,781.95 1999,781.49 2001.5,783.09 2004,782.66 2006.5,782.54 2009,782.49 2011.5,782.12 2014,782.85 2016.5,781.39 2019,782.84 2021.5,781.97 2024,781.48 2026.5,781.49 2029,781.68 2031.5,782.33 2034,781.6 2036.5,781.79 2039,782.08 2041.5,781.4 2044,781.85 2046.5,781.27 2049,781.52 2051.5,781.18 2054,781.76 2056.5,781.72 2059,782.34 2061.5,781.71 2064,782.37 2066.5,782.13 2069,781.63 2071.5,781.2 2074,781.97 2076.5,782.28 2079,781.07 2081.5,781.05 2084,782.24 2086.5,781.13 2089,781.22 2091.5,781.95 2094,780.79 2096.5,781.14 2099,781.64 2101.5,780.59 2104,781.35 2106.5,780.92 2109,782.25 2111.5,781.49 2114,780.99 2116.5,780.68 2119,782.1 2121.5,782.14 2124,781.82 2126.5,780.94 2129,781.57 2131.5,780.86 2134,782.09 2134,792.07 2131.5,792.24 2129,792.35 2126.5,792.13 2124,792.29 2121.5,791.62 2119,791.14 2116.5,792.58 2114,792.19 2111.5,791.23 2109,791.73 2106.5,792.1 2104,791.94 2101.5,791.68 2099,792.31 2096.5,791.75 2094,792.63 2091.5,791.3 2089,791.92 2086.5,792.73 2084,792.81 2081.5,792.48 2079,791.69 2076.5,791.68 2074,792.98 2071.5,792.57 2069,791.7 2066.5,793.04 2064,792.04 2061.5,792.64 2059,792.36 2056.5,792.88 2054,792.48 2051.5,793.21 2049,792.84 2046.5,792.11 2044,792.17 2041.5,791.55 2039,792.01 2036.5,793.08 2034,792.84 2031.5,793.3 2029,792.03 2026.5,792.68 2024,792.13 2021.5,792.96 2019,792.62 2016.5,793.06 2014,792 2011.5,792.91 2009,792.71 2006.5,793.16 2004,792.11 2001.5,792.58 1999,792.74 1996.5,792.57 1994,792.5 1991.5,792.47 1989,792.85 1986.5,792.04 1984,793.18 1981.5,792.25 1979,793.32 1976.5,791.81 1974,792.51 1971.5,791.63 1969,792.58 1966.5,793.02 1964,793.01 1961.5,792.98 1959,791.76 1956.5,791.59 1954,791.47 1951.5,791.62 1949,792.4 1946.5,792.33 1944,792.49 1941.5,792.86 1939,792.7 1936.5,792.05 1934,792.61 1931.5,791.84 1929,792.72 1926.5,791.88 1924,792.34 1921.5,791.51 1919,792.29 1916.5,792.28 1914,791.66 1911.5,792.09 1909,791.62 1906.5,792 1904,791.21 1901.5,791.55 1899,791.86 1896.5,791.48 1894,791.56 1891.5,792.1 1889,791.53 1886.5,791.89 1884,792.55 1881.5,791.16 1879,791.29 1876.5,791.09 1874,791.96 1871.5,792.08 1869,791.65 1866.5,792.74 1864,791.22 1861.5,792.69 1859,792.69 1856.5,792.76 1854,791.67 1851.5,792.74 1849,792.91 1846.5,792 1844,793.1 1841.5,792.38 1839,792 1836.5,792.83 1834,792.55 1831.5,793.15 1829,792.81 1826.5,791.67 1824,792.13 1821.5,791.76 1819,792.27 1816.5,792.62 1814,793.22 1811.5,792.13 1809,793.47 1806.5,793.56 1804,793.51 1801.5,792.12 1799,792.57 1796.5,792.53 1794,792.23 1791.5,792.22 1789,792.27 1786.5,792.75 1784,792.05 1781.5,793.01 1779,791.8 1776.5,791.63 1774,792.17 1771.5,792.49 1769,791.57 1766.5,792.01 1764,791.78 1761.5,791.31 1759,791.86 1756.5,791.46 1754,791.39 1751.5,792.26 1749,790.94 1746.5,791.53 1744,791.87 1741.5,791.32 1739,791.28 1736.5,791.48 1734,792.35 1731.5,790.67 1729,791.85 1726.5,791.11 1724,791.26 1721.5,790.49 1719,791.47 1716.5,791.44 1714,790.46 1711.5,791.41 1709,791.05 1706.5,791.84 1704,791.49 1701.5,791.73 1699,791.72 1696.5,791.62 1694,791.4 1691.5,792.48 1689,792.35 1686.5,791.11 1684,791.6 1681.5,790.96 1679,791.07 1676.5,792.77 1674,792.77 1671.5,791.64 1669,791.16 1666.5,791.19 1664,792.53 1661.5,791.46 1659,792.66 1656.5,793.04 1654,791.41 1651.5,792.36 1649,791.74 1646.5,792.42 1644,793.17 1641.5,791.76 1639,793.28 1636.5,793.2 1634,793.19 1631.5,792.65 1629,792.32 1626.5,792.2 1624,792.48 1621.5,792.12 1619,791.93 1616.5,793.47 1614,793.27 1611.5,793.51 1609,793.47 1606.5,792.77 1604,792.01 1601.5,793.05 1599,792.14 1596.5,793.39 1594,793.65 1591.5,792.39 1589,793.01 1586.5,793.03 1584,792.64 1581.5,793.76 1579,792.4 1576.5,793.4 1574,793.33" fill="#f2b43c"/>
<rect x="1574" y="485.6" width="562.6" height="432.7" fill="none" stroke="#111" stroke-width="1.9"/>
<path d="M1574,918.3v8.5M1668.07,918.3v8.5M1762.14,918.3v8.5M1856.21,918.3v8.5M1950.28,918.3v8.5M2044.35,918.3v8.5M2138.42,918.3v8.5M1621.04,918.3v4.5M1715.11,918.3v4.5M1809.17,918.3v4.5M1903.24,918.3v4.5M1997.32,918.3v4.5M2091.39,918.3v4.5M1574,918.3h-8M1574,701.95h-8M1574,485.6h-8M1574,810.12h-4M1574,593.77h-4" stroke="#111" stroke-width="1.9" fill="none"/>
<text x="1539.89" y="926.29" font-size="30.57" fill="#000" textLength="18.27" lengthAdjust="spacingAndGlyphs" stroke="#000" stroke-width="0.35">5</text>
<text x="1521.76" y="709.95" font-size="30.14" fill="#000" textLength="36.26" lengthAdjust="spacingAndGlyphs" stroke="#000" stroke-width="0.35">10</text>
<text x="1521.74" y="493.59" font-size="30.57" fill="#000" textLength="36.44" lengthAdjust="spacingAndGlyphs" stroke="#000" stroke-width="0.35">15</text>
<text x="1564.32" y="954.99" font-size="31.27" fill="#000" textLength="19.23" lengthAdjust="spacingAndGlyphs" stroke="#000" stroke-width="0.35">0</text>
<text x="1638.94" y="954.99" font-size="31.27" fill="#000" textLength="57.87" lengthAdjust="spacingAndGlyphs" stroke="#000" stroke-width="0.35">600</text>
<text x="1722.94" y="954.99" font-size="31.27" fill="#000" textLength="77" lengthAdjust="spacingAndGlyphs" stroke="#000" stroke-width="0.35">1200</text>
<text x="1817.01" y="954.99" font-size="31.27" fill="#000" textLength="77" lengthAdjust="spacingAndGlyphs" stroke="#000" stroke-width="0.35">1800</text>
<text x="1911.97" y="954.99" font-size="31.27" fill="#000" textLength="76.1" lengthAdjust="spacingAndGlyphs" stroke="#000" stroke-width="0.35">2400</text>
<text x="2006.39" y="954.99" font-size="31.27" fill="#000" textLength="75.74" lengthAdjust="spacingAndGlyphs" stroke="#000" stroke-width="0.35">3000</text>
<text x="2100.46" y="954.99" font-size="31.27" fill="#000" textLength="75.74" lengthAdjust="spacingAndGlyphs" stroke="#000" stroke-width="0.35">3600</text>
<text x="1785.64" y="984.56" font-size="33.05" fill="#000" textLength="125.28" lengthAdjust="spacingAndGlyphs" stroke="#000" stroke-width="0.35">Time (S)</text>
<text x="1511.2" y="824.35" font-size="34.76" fill="#000" textLength="271.35" lengthAdjust="spacingAndGlyphs" transform="rotate(-90 1511.2 824.35)" stroke="#000" stroke-width="0.35">Output power (W)</text>
<line x1="1594" y1="506.1" x2="1640.4" y2="506.1" stroke="#92c83e" stroke-width="7.8" stroke-linecap="round"/>
<line x1="1594" y1="549.9" x2="1640.4" y2="549.9" stroke="#ec3b3b" stroke-width="7.8" stroke-linecap="round"/>
<line x1="1594" y1="593.7" x2="1640.4" y2="593.7" stroke="#f2b43c" stroke-width="7.8" stroke-linecap="round"/>
<text x="1653.38" y="512.97" font-size="23.24" fill="#000" textLength="145.51" lengthAdjust="spacingAndGlyphs" stroke="#000" stroke-width="0.35">3at.%Er:CaF</text>
<text x="1799.92" y="519.3" font-size="17.14" fill="#000" textLength="10.88" lengthAdjust="spacingAndGlyphs" stroke="#000" stroke-width="0.35">2</text>
<text x="1818.99" y="512.95" font-size="25.17" fill="#000" textLength="57.18" lengthAdjust="spacingAndGlyphs" stroke="#000" stroke-width="0.35">laser</text>
<text x="1653.13" y="557.17" font-size="23.24" fill="#000" textLength="145.77" lengthAdjust="spacingAndGlyphs" stroke="#000" stroke-width="0.35">2at.%Er:CaF</text>
<text x="1799.92" y="563.5" font-size="17.14" fill="#000" textLength="10.88" lengthAdjust="spacingAndGlyphs" stroke="#000" stroke-width="0.35">2</text>
<text x="1818.99" y="557.15" font-size="25.17" fill="#000" textLength="57.18" lengthAdjust="spacingAndGlyphs" stroke="#000" stroke-width="0.35">laser</text>
<text x="1653.38" y="601.37" font-size="23.24" fill="#000" textLength="138.97" lengthAdjust="spacingAndGlyphs" stroke="#000" stroke-width="0.35">3at.%Er:SrF</text>
<text x="1793.32" y="607.7" font-size="17.14" fill="#000" textLength="10.88" lengthAdjust="spacingAndGlyphs" stroke="#000" stroke-width="0.35">2</text>
<text x="1811.66" y="601.35" font-size="25.17" fill="#000" textLength="57.91" lengthAdjust="spacingAndGlyphs" stroke="#000" stroke-width="0.35">laser</text>
<text x="1750.38" y="669.4" font-size="30.14" fill="#000" textLength="184.76" lengthAdjust="spacingAndGlyphs" stroke="#000" stroke-width="0.35">RMS=0.59%</text>
<text x="1748.28" y="755.8" font-size="30.42" fill="#000" textLength="184.66" lengthAdjust="spacingAndGlyphs" stroke="#000" stroke-width="0.35">RMS=0.67%</text>
<text x="1749.28" y="841" font-size="30.14" fill="#000" textLength="184.76" lengthAdjust="spacingAndGlyphs" stroke="#000" stroke-width="0.35">RMS=0.35%</text>
<path d="M32,1023 V20 H773 V1023 M32,1021 H773" fill="none" stroke="#d9d9d9" stroke-width="2"/>
<path d="M794,1023 V20 H1430.7 V1023 M794,1021 H1430.7" fill="none" stroke="#d9d9d9" stroke-width="2"/>
<path d="M1460,1023 V20 H2230.4 V1023 M1460,1021 H2230.4" fill="none" stroke="#d9d9d9" stroke-width="2"/>
</svg></body></html>
